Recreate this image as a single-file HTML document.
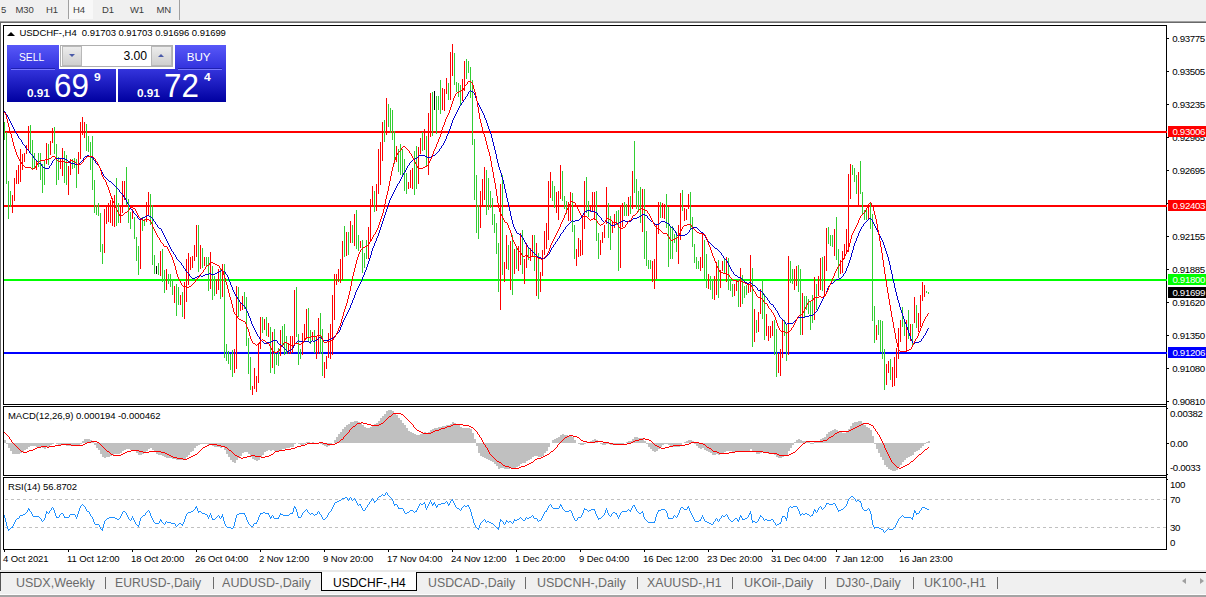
<!DOCTYPE html><html><head><meta charset="utf-8"><title>USDCHF-,H4</title><style>
html,body{margin:0;padding:0;}
body{width:1206px;height:597px;background:#f0f0f0;position:relative;overflow:hidden;font-family:"Liberation Sans",sans-serif;}
.a{position:absolute;}
.t{position:absolute;white-space:nowrap;line-height:1;color:#000;font-size:9.5px;letter-spacing:-0.04px;}
.tb{position:absolute;white-space:nowrap;line-height:1;color:#3c3c3c;font-size:9.5px;letter-spacing:-0.1px;top:5px;}
.ax{position:absolute;white-space:nowrap;line-height:1;color:#000;font-size:9.7px;letter-spacing:-0.36px;left:1172.3px;}
.bx{position:absolute;left:1168px;width:38px;height:11px;color:#fff;font-size:9.7px;letter-spacing:-0.36px;line-height:11px;white-space:nowrap;}
.bx span{position:absolute;left:4.5px;top:0;}
.tab{position:absolute;top:577px;transform-origin:0 0;white-space:nowrap;line-height:1;font-size:12.8px;color:#6a6a6a;}
.sep{position:absolute;top:577px;width:1px;height:12px;background:#6a6a6a;}
.dt{position:absolute;top:554px;white-space:nowrap;line-height:1;color:#000;font-size:9.5px;letter-spacing:-0.1px;}
</style></head><body>
<div class="a" style="left:69px;top:0;width:24px;height:19px;background:#f8f8f8;"></div>
<div class="a" style="left:68px;top:0;width:1px;height:19px;background:#a0a0a0;"></div>
<div class="a" style="left:179px;top:0;width:1px;height:20px;background:#a0a0a0;"></div>
<div class="tb" style="left:1px;">5</div>
<div class="tb" style="left:15.5px;">M30</div>
<div class="tb" style="left:46px;">H1</div>
<div class="tb" style="left:73px;">H4</div>
<div class="tb" style="left:102px;">D1</div>
<div class="tb" style="left:130px;">W1</div>
<div class="tb" style="left:156.5px;">MN</div>
<div class="a" style="left:0;top:21px;width:1206px;height:1px;background:#a0a0a0;"></div>
<div class="a" style="left:0;top:22px;width:1206px;height:1px;background:#696969;"></div>
<div class="a" style="left:0;top:23px;width:1206px;height:548px;background:#fff;"></div>
<div class="a" style="left:0;top:22px;width:1px;height:549px;background:#696969;"></div>
<div class="a" style="left:3px;top:25px;width:1162px;height:378px;border:1px solid #000;"></div>
<div class="a" style="left:3px;top:406px;width:1162px;height:68px;border:1px solid #000;"></div>
<div class="a" style="left:3px;top:477px;width:1162px;height:71px;border:1px solid #000;"></div>
<div class="a" style="left:1166px;top:25px;width:1px;height:525px;background:#000;"></div>
<div class="a" style="left:4px;top:131px;width:1163px;height:2px;background:#ff0000;"></div>
<div class="a" style="left:4px;top:205px;width:1163px;height:2px;background:#ff0000;"></div>
<div class="a" style="left:4px;top:279px;width:1163px;height:2px;background:#00ff00;"></div>
<div class="a" style="left:4px;top:352px;width:1163px;height:2px;background:#0000ff;"></div>
<div class="a" style="left:4px;top:499px;width:1162px;height:1px;background:repeating-linear-gradient(90deg,#c0c0c0 0,#c0c0c0 3px,transparent 3px,transparent 6px);background-position:1px 0;"></div>
<div class="a" style="left:4px;top:527px;width:1162px;height:1px;background:repeating-linear-gradient(90deg,#c0c0c0 0,#c0c0c0 3px,transparent 3px,transparent 6px);background-position:1px 0;"></div>
<svg class="a" style="left:0;top:0;" width="1206" height="597" viewBox="0 0 1206 597"><path d="M4.5 122V140M6.5 132V184M8.5 181V219M10.5 191V207M30.5 125V153M32.5 140V169M34.5 153V169M38.5 153V167M40.5 153V180M42.5 164V193M44.5 160V185M48.5 144V165M54.5 127V154M56.5 144V185M58.5 157V180M64.5 151V183M66.5 155V185M72.5 159V169M74.5 158V168M76.5 159V188M86.5 124V151M88.5 136V152M90.5 142V170M92.5 136V190M94.5 180V213M96.5 205V215M98.5 203V216M100.5 213V252M102.5 244V264M116.5 178V226M118.5 203V223M126.5 167V205M128.5 199V223M130.5 212V229M134.5 217V239M136.5 237V261M138.5 246V275M142.5 217V231M144.5 219V226M150.5 194V225M152.5 205V265M154.5 255V274M158.5 263V275M162.5 249V282M164.5 270V293M168.5 274V284M170.5 274V287M172.5 279V295M176.5 284V316M178.5 287V305M182.5 292V317M198.5 225V272M202.5 248V268M206.5 257V267M208.5 257V291M212.5 266V300M214.5 276V296M220.5 269V299M224.5 264V358M226.5 344V361M228.5 351V364M230.5 354V370M232.5 350V377M238.5 287V317M244.5 292V309M246.5 297V346M248.5 338V374M250.5 357V390M262.5 317V333M266.5 317V336M270.5 327V373M274.5 329V374M276.5 354V365M278.5 348V366M282.5 326V347M284.5 324V355M286.5 336V354M296.5 287V337M298.5 334V365M300.5 349V359M308.5 308V342M310.5 330V344M314.5 330V353M320.5 313V354M322.5 329V376M344.5 226V257M348.5 232V255M352.5 225V243M356.5 210V249M358.5 235V251M362.5 240V273M364.5 253V268M366.5 240V259M374.5 191V212M384.5 120V142M388.5 104V127M390.5 108V133M392.5 110V140M394.5 131V164M398.5 149V172M400.5 144V175M402.5 149V176M404.5 159V191M406.5 173V194M414.5 151V195M416.5 146V189M422.5 132V151M426.5 136V167M432.5 92V136M436.5 96V134M438.5 96V110M440.5 80V114M448.5 83V100M454.5 53V85M456.5 82V92M458.5 83V97M460.5 85V105M466.5 59V79M468.5 61V73M470.5 67V98M472.5 80V145M474.5 139V200M476.5 175V233M478.5 205V239M486.5 170V215M488.5 178V210M490.5 191V208M492.5 198V225M494.5 214V233M496.5 223V254M498.5 243V292M502.5 175V275M508.5 245V270M512.5 235V295M516.5 246V269M522.5 230V274M528.5 248V260M534.5 235V271M538.5 253V299M552.5 181V201M554.5 186V208M562.5 171V201M564.5 196V209M566.5 201V214M572.5 193V232M574.5 225V259M586.5 177V213M588.5 201V217M596.5 191V241M598.5 233V259M608.5 203V238M610.5 216V250M616.5 211V225M618.5 210V271M624.5 202V216M626.5 204V216M630.5 196V214M634.5 141V193M636.5 179V209M638.5 191V212M640.5 187V223M644.5 189V259M646.5 231V266M648.5 260V269M650.5 260V269M660.5 202V218M666.5 194V228M668.5 207V267M670.5 227V259M672.5 226V259M674.5 234V243M676.5 232V252M682.5 190V211M690.5 192V230M692.5 217V247M694.5 244V263M696.5 257V269M698.5 261V269M704.5 240V279M706.5 254V288M710.5 276V290M712.5 280V299M718.5 260V298M724.5 259V274M728.5 258V290M730.5 280V291M732.5 284V297M738.5 279V307M742.5 275V304M744.5 286V298M746.5 285V295M752.5 268V347M756.5 320V333M762.5 280V319M764.5 294V340M774.5 320V355M776.5 329V377M784.5 320V336M786.5 324V361M790.5 261V283M792.5 269V284M798.5 265V292M800.5 269V335M804.5 296V318M806.5 296V310M808.5 299V314M810.5 301V330M812.5 295V323M816.5 284V310M822.5 257V291M828.5 227V244M830.5 235V246M832.5 235V247M836.5 217V260M838.5 249V278M852.5 165V175M854.5 168V182M856.5 175V194M860.5 161V194M862.5 192V215M864.5 210V220M866.5 210V220M870.5 203V229M872.5 214V321M874.5 306V343M878.5 320V335M880.5 320V352M882.5 321V359M884.5 349V390M890.5 359V380M902.5 307V327M904.5 319V336M908.5 310V339M912.5 324V345M916.5 305V328M926.5 291V293M928.5 292V294" stroke="#32cd32" stroke-width="1" fill="none" shape-rendering="crispEdges"/>
<path d="M12.5 195V213M14.5 178V201M16.5 170V184M18.5 165V184M20.5 149V182M22.5 154V170M24.5 153V162M26.5 145V154M28.5 126V150M36.5 160V170M46.5 143V164M50.5 141V155M52.5 128V143M60.5 158V169M62.5 148V176M68.5 166V195M70.5 159V175M78.5 152V174M80.5 122V159M82.5 117V135M84.5 122V138M104.5 209V253M106.5 207V224M108.5 203V222M110.5 200V223M112.5 198V226M114.5 195V227M120.5 205V223M122.5 181V213M124.5 181V200M132.5 209V219M140.5 220V269M146.5 202V222M148.5 192V215M160.5 251V276M166.5 269V290M174.5 286V303M180.5 295V305M184.5 282V319M186.5 259V302M188.5 253V285M190.5 257V270M192.5 256V268M194.5 245V261M196.5 225V257M200.5 245V269M204.5 257V266M210.5 252V289M216.5 279V294M218.5 269V290M222.5 264V297M234.5 349V373M236.5 286V369M240.5 302V311M242.5 296V310M252.5 386V395M254.5 368V389M256.5 376V392M258.5 343V383M260.5 317V349M264.5 319V330M268.5 323V337M272.5 332V368M280.5 330V356M288.5 344V354M290.5 336V354M292.5 336V353M294.5 290V345M302.5 333V355M304.5 324V340M306.5 309V339M312.5 332V341M316.5 337V359M318.5 318V354M324.5 362V378M326.5 356V369M328.5 333V358M330.5 324V359M332.5 295V355M334.5 274V320M336.5 274V285M338.5 269V282M340.5 259V283M342.5 241V280M346.5 232V256M350.5 221V243M354.5 214V246M360.5 241V248M368.5 227V259M370.5 199V242M372.5 186V207M376.5 184V211M378.5 149V194M380.5 142V185M382.5 122V161M386.5 98V135M396.5 146V162M408.5 182V189M410.5 170V188M412.5 168V189M418.5 147V184M420.5 138V154M424.5 129V150M428.5 113V175M430.5 93V137M442.5 88V110M444.5 89V111M446.5 78V94M450.5 52V100M452.5 44V76M462.5 79V101M464.5 61V91M480.5 191V228M482.5 179V206M484.5 167V200M500.5 184V310M504.5 262V282M506.5 235V269M510.5 241V290M514.5 249V274M518.5 246V271M520.5 233V265M524.5 259V284M526.5 243V268M530.5 248V261M532.5 235V257M536.5 243V296M540.5 272V292M542.5 250V276M544.5 231V255M546.5 223V249M548.5 181V240M550.5 172V198M556.5 192V213M558.5 191V220M560.5 165V199M568.5 202V221M570.5 192V221M576.5 249V266M578.5 238V257M580.5 240V256M582.5 217V255M584.5 181V229M590.5 205V212M592.5 192V211M594.5 192V220M600.5 240V255M602.5 232V243M604.5 225V238M606.5 187V224M612.5 221V233M614.5 214V228M620.5 205V268M622.5 203V227M628.5 197V216M632.5 171V209M642.5 189V232M652.5 261V282M654.5 259V289M656.5 224V279M658.5 202V234M662.5 203V218M664.5 204V219M678.5 225V264M680.5 193V240M684.5 208V221M686.5 209V220M688.5 194V209M700.5 257V271M702.5 234V268M708.5 274V289M714.5 276V300M716.5 262V295M720.5 270V288M722.5 261V271M726.5 257V282M734.5 284V296M736.5 280V291M740.5 268V307M748.5 283V293M750.5 255V292M754.5 309V342M758.5 312V332M760.5 289V314M766.5 314V336M768.5 326V341M770.5 326V338M772.5 321V336M778.5 353V373M780.5 349V376M782.5 319V358M788.5 256V355M794.5 269V290M796.5 266V286M802.5 293V335M814.5 277V320M818.5 276V296M820.5 258V290M824.5 256V296M826.5 228V271M834.5 229V256M840.5 260V274M842.5 251V273M844.5 244V259M846.5 229V253M848.5 174V252M850.5 164V199M858.5 172V205M868.5 204V219M876.5 325V340M886.5 364V385M888.5 361V373M892.5 367V387M894.5 357V386M896.5 348V378M898.5 328V359M900.5 320V342M906.5 320V352M910.5 324V341M914.5 297V323M918.5 313V332M920.5 295V327M922.5 282V301M924.5 285V297" stroke="#ff0000" stroke-width="1" fill="none" shape-rendering="crispEdges"/>
<path d="M156.5 266V274M434.5 91V110" stroke="#000" stroke-width="1" fill="none" shape-rendering="crispEdges"/>
<path d="M4.5 111v1M5.5 112v2M6.5 114v1M7.5 115v2M8.5 117v2M9.5 119v2M10.5 121v2M11.5 123v2M12.5 125v2M13.5 127v2M14.5 129v2M15.5 131v2M16.5 133v1M17.5 134v2M18.5 136v2M19.5 138v1M20.5 139v1M21.5 140v2M22.5 142v2M23.5 144v1M24.5 145v1M25.5 146v2M26.5 148v1M27.5 149v1M28.5 150v1M29.5 151v2M30.5 153v1M31.5 154v1M32.5 155v1M33.5 156v2M34.5 158v1M35.5 159v1M36.5 160v1M37.5 161v1M38.5 162v1M39.5 163v1M40.5 163v1M41.5 164v2M42.5 166v1M43.5 167v1M44.5 167v1M45.5 168v1M46.5 168v1M47.5 168v1M48.5 168v1M49.5 166v2M50.5 165v1M51.5 163v2M52.5 161v2M53.5 160v1M54.5 159v1M55.5 158v1M56.5 158v1M57.5 158v1M58.5 158v1M59.5 158v1M60.5 158v1M61.5 158v1M62.5 158v1M63.5 158v1M64.5 158v1M65.5 159v1M66.5 159v1M67.5 160v1M68.5 161v1M69.5 162v1M70.5 162v1M71.5 163v1M72.5 163v1M73.5 163v1M74.5 163v1M75.5 164v1M76.5 164v1M77.5 164v1M78.5 164v1M79.5 163v1M80.5 162v1M81.5 161v1M82.5 160v1M83.5 158v2M84.5 157v1M85.5 156v1M86.5 156v1M87.5 155v1M88.5 155v1M89.5 156v1M90.5 156v1M91.5 157v1M92.5 157v1M93.5 158v2M94.5 160v1M95.5 161v2M96.5 163v1M97.5 164v1M98.5 165v1M99.5 166v2M100.5 168v2M101.5 170v2M102.5 172v2M103.5 174v2M104.5 176v1M105.5 177v1M106.5 178v1M107.5 179v1M108.5 180v1M109.5 181v1M110.5 181v1M111.5 182v1M112.5 183v1M113.5 184v1M114.5 185v1M115.5 186v1M116.5 187v1M117.5 188v1M118.5 189v1M119.5 190v2M120.5 192v1M121.5 193v1M122.5 194v1M123.5 195v2M124.5 197v1M125.5 198v2M126.5 200v2M127.5 202v2M128.5 204v1M129.5 205v2M130.5 207v2M131.5 209v1M132.5 210v1M133.5 211v2M134.5 213v1M135.5 214v1M136.5 215v1M137.5 216v2M138.5 218v1M139.5 219v1M140.5 219v1M141.5 218v1M142.5 218v1M143.5 217v1M144.5 217v1M145.5 216v1M146.5 216v1M147.5 215v1M148.5 215v1M149.5 216v1M150.5 216v1M151.5 217v1M152.5 218v1M153.5 219v2M154.5 221v1M155.5 222v2M156.5 224v1M157.5 225v2M158.5 227v1M159.5 228v1M160.5 228v1M161.5 229v2M162.5 231v2M163.5 233v2M164.5 235v2M165.5 237v2M166.5 239v2M167.5 241v2M168.5 243v2M169.5 245v2M170.5 247v2M171.5 249v2M172.5 251v1M173.5 252v2M174.5 254v1M175.5 255v2M176.5 257v2M177.5 259v1M178.5 260v1M179.5 261v1M180.5 262v1M181.5 263v2M182.5 265v1M183.5 266v2M184.5 268v1M185.5 269v2M186.5 271v1M187.5 272v1M188.5 273v1M189.5 274v2M190.5 276v1M191.5 277v1M192.5 278v1M193.5 278v1M194.5 278v1M195.5 277v1M196.5 277v1M197.5 276v1M198.5 276v1M199.5 275v1M200.5 275v1M201.5 276v1M202.5 276v1M203.5 275v1M204.5 275v1M205.5 274v1M206.5 274v1M207.5 274v1M208.5 274v1M209.5 273v1M210.5 273v1M211.5 274v1M212.5 274v1M213.5 274v1M214.5 274v1M215.5 273v1M216.5 273v1M217.5 272v1M218.5 272v1M219.5 271v1M220.5 271v1M221.5 270v1M222.5 270v1M223.5 271v1M224.5 271v1M225.5 272v2M226.5 274v1M227.5 275v2M228.5 277v3M229.5 280v2M230.5 282v3M231.5 285v2M232.5 287v3M233.5 290v2M234.5 292v2M235.5 294v2M236.5 296v1M237.5 297v2M238.5 299v1M239.5 300v2M240.5 302v1M241.5 303v1M242.5 304v1M243.5 305v1M244.5 306v1M245.5 307v2M246.5 309v2M247.5 311v2M248.5 313v3M249.5 316v2M250.5 318v3M251.5 321v3M252.5 324v2M253.5 326v2M254.5 328v2M255.5 330v2M256.5 332v2M257.5 334v2M258.5 336v1M259.5 337v2M260.5 339v1M261.5 340v1M262.5 341v1M263.5 342v1M264.5 343v1M265.5 343v1M266.5 343v1M267.5 342v1M268.5 342v1M269.5 342v1M270.5 342v1M271.5 341v1M272.5 341v1M273.5 340v1M274.5 340v1M275.5 340v1M276.5 340v1M277.5 341v2M278.5 343v1M279.5 344v1M280.5 344v1M281.5 345v1M282.5 346v1M283.5 347v1M284.5 348v1M285.5 349v1M286.5 350v1M287.5 351v1M288.5 351v1M289.5 350v1M290.5 350v1M291.5 349v1M292.5 348v1M293.5 346v2M294.5 344v2M295.5 343v1M296.5 342v1M297.5 341v1M298.5 340v1M299.5 341v1M300.5 341v1M301.5 341v1M302.5 341v1M303.5 341v1M304.5 341v1M305.5 341v1M306.5 341v1M307.5 341v1M308.5 341v1M309.5 342v1M310.5 342v1M311.5 341v1M312.5 340v1M313.5 341v1M314.5 341v1M315.5 340v1M316.5 340v1M317.5 339v1M318.5 338v1M319.5 337v1M320.5 337v1M321.5 338v1M322.5 339v1M323.5 340v1M324.5 340v1M325.5 340v1M326.5 340v1M327.5 340v1M328.5 340v1M329.5 339v1M330.5 339v1M331.5 338v1M332.5 338v1M333.5 337v1M334.5 336v1M335.5 335v1M336.5 334v1M337.5 333v1M338.5 332v1M339.5 330v2M340.5 327v3M341.5 325v2M342.5 322v3M343.5 320v2M344.5 318v2M345.5 316v2M346.5 314v2M347.5 312v2M348.5 310v2M349.5 308v2M350.5 305v3M351.5 303v2M352.5 300v3M353.5 298v2M354.5 295v3M355.5 292v3M356.5 290v2M357.5 288v2M358.5 286v2M359.5 284v2M360.5 282v2M361.5 280v2M362.5 277v3M363.5 275v2M364.5 272v3M365.5 270v2M366.5 267v3M367.5 264v3M368.5 261v3M369.5 258v3M370.5 255v3M371.5 251v4M372.5 248v3M373.5 246v2M374.5 243v3M375.5 241v2M376.5 238v3M377.5 236v2M378.5 233v3M379.5 230v3M380.5 227v3M381.5 224v3M382.5 221v3M383.5 218v3M384.5 215v3M385.5 212v3M386.5 209v3M387.5 206v3M388.5 203v3M389.5 200v3M390.5 198v2M391.5 196v2M392.5 194v2M393.5 192v2M394.5 190v2M395.5 188v2M396.5 186v2M397.5 184v2M398.5 183v1M399.5 181v2M400.5 179v2M401.5 177v2M402.5 175v2M403.5 173v2M404.5 172v1M405.5 170v2M406.5 168v2M407.5 166v2M408.5 165v1M409.5 163v2M410.5 162v1M411.5 161v1M412.5 160v1M413.5 159v1M414.5 159v1M415.5 158v1M416.5 158v1M417.5 157v1M418.5 156v1M419.5 155v1M420.5 155v1M421.5 155v1M422.5 155v1M423.5 155v1M424.5 155v1M425.5 156v1M426.5 156v1M427.5 157v1M428.5 157v1M429.5 157v1M430.5 157v1M431.5 156v1M432.5 156v1M433.5 155v1M434.5 155v1M435.5 154v1M436.5 153v1M437.5 152v1M438.5 151v1M439.5 149v2M440.5 148v1M441.5 146v2M442.5 145v1M443.5 143v2M444.5 141v2M445.5 139v2M446.5 136v3M447.5 134v2M448.5 131v3M449.5 129v2M450.5 126v3M451.5 123v3M452.5 120v3M453.5 118v2M454.5 116v2M455.5 114v2M456.5 112v2M457.5 110v2M458.5 108v2M459.5 106v2M460.5 105v1M461.5 103v2M462.5 102v1M463.5 100v2M464.5 99v1M465.5 97v2M466.5 96v1M467.5 94v2M468.5 92v2M469.5 91v1M470.5 90v1M471.5 91v1M472.5 91v1M473.5 92v1M474.5 93v2M475.5 95v3M476.5 98v3M477.5 101v2M478.5 103v2M479.5 105v2M480.5 107v2M481.5 109v2M482.5 111v2M483.5 113v2M484.5 115v3M485.5 118v2M486.5 120v3M487.5 123v3M488.5 126v3M489.5 129v2M490.5 131v3M491.5 134v4M492.5 138v4M493.5 142v4M494.5 146v4M495.5 150v4M496.5 154v5M497.5 159v4M498.5 163v4M499.5 167v3M500.5 170v3M501.5 173v4M502.5 177v3M503.5 180v4M504.5 184v5M505.5 189v4M506.5 193v5M507.5 198v4M508.5 202v5M509.5 207v4M510.5 211v5M511.5 216v4M512.5 220v4M513.5 224v3M514.5 227v2M515.5 229v2M516.5 231v2M517.5 233v1M518.5 233v1M519.5 234v1M520.5 234v1M521.5 235v2M522.5 237v1M523.5 238v2M524.5 240v2M525.5 242v2M526.5 244v1M527.5 245v2M528.5 247v1M529.5 248v1M530.5 249v1M531.5 250v1M532.5 251v1M533.5 252v1M534.5 253v1M535.5 254v1M536.5 255v1M537.5 256v1M538.5 257v1M539.5 257v1M540.5 257v1M541.5 258v1M542.5 258v1M543.5 258v1M544.5 258v1M545.5 257v1M546.5 256v1M547.5 255v1M548.5 254v1M549.5 252v2M550.5 250v2M551.5 248v2M552.5 247v1M553.5 245v2M554.5 244v1M555.5 242v2M556.5 241v1M557.5 239v2M558.5 238v1M559.5 236v2M560.5 234v2M561.5 233v1M562.5 232v1M563.5 230v2M564.5 229v1M565.5 227v2M566.5 226v1M567.5 225v1M568.5 224v1M569.5 223v1M570.5 222v1M571.5 221v1M572.5 220v1M573.5 221v1M574.5 221v1M575.5 220v1M576.5 220v1M577.5 220v1M578.5 220v1M579.5 219v1M580.5 218v1M581.5 216v2M582.5 215v1M583.5 213v2M584.5 212v1M585.5 211v1M586.5 211v1M587.5 210v1M588.5 210v1M589.5 210v1M590.5 210v1M591.5 211v1M592.5 211v1M593.5 211v1M594.5 211v1M595.5 212v1M596.5 212v1M597.5 213v2M598.5 215v1M599.5 216v1M600.5 217v1M601.5 218v2M602.5 220v1M603.5 221v1M604.5 222v1M605.5 221v1M606.5 221v1M607.5 222v1M608.5 222v1M609.5 223v1M610.5 224v1M611.5 225v1M612.5 225v1M613.5 225v1M614.5 225v1M615.5 224v1M616.5 223v1M617.5 223v1M618.5 223v1M619.5 222v1M620.5 222v1M621.5 221v1M622.5 221v1M623.5 220v1M624.5 220v1M625.5 221v1M626.5 221v1M627.5 221v1M628.5 221v1M629.5 221v1M630.5 221v1M631.5 220v1M632.5 219v1M633.5 218v1M634.5 218v1M635.5 218v1M636.5 218v1M637.5 217v1M638.5 217v1M639.5 216v1M640.5 216v1M641.5 215v1M642.5 214v1M643.5 214v1M644.5 214v1M645.5 215v1M646.5 215v1M647.5 216v2M648.5 218v1M649.5 219v1M650.5 220v1M651.5 221v1M652.5 221v1M653.5 222v1M654.5 223v1M655.5 224v1M656.5 224v1M657.5 224v1M658.5 224v1M659.5 223v1M660.5 222v1M661.5 221v1M662.5 221v1M663.5 221v1M664.5 221v1M665.5 222v1M666.5 222v1M667.5 223v1M668.5 223v1M669.5 224v2M670.5 226v1M671.5 227v1M672.5 227v1M673.5 228v2M674.5 230v1M675.5 231v2M676.5 233v2M677.5 235v1M678.5 235v1M679.5 235v1M680.5 235v1M681.5 235v1M682.5 235v1M683.5 235v1M684.5 235v1M685.5 234v1M686.5 234v1M687.5 233v1M688.5 232v1M689.5 230v2M690.5 229v1M691.5 228v1M692.5 228v1M693.5 227v1M694.5 227v1M695.5 227v1M696.5 227v1M697.5 228v1M698.5 229v1M699.5 230v1M700.5 231v1M701.5 232v1M702.5 232v1M703.5 233v2M704.5 235v1M705.5 236v2M706.5 238v2M707.5 240v1M708.5 241v1M709.5 242v1M710.5 243v1M711.5 244v1M712.5 245v1M713.5 246v1M714.5 247v1M715.5 248v1M716.5 248v1M717.5 249v1M718.5 250v1M719.5 251v1M720.5 252v1M721.5 253v2M722.5 255v1M723.5 256v2M724.5 258v1M725.5 259v1M726.5 260v1M727.5 261v2M728.5 263v2M729.5 265v2M730.5 267v2M731.5 269v2M732.5 271v1M733.5 272v2M734.5 274v1M735.5 275v1M736.5 275v1M737.5 276v1M738.5 277v1M739.5 277v1M740.5 277v1M741.5 278v1M742.5 279v1M743.5 280v1M744.5 281v1M745.5 282v1M746.5 282v1M747.5 283v1M748.5 283v1M749.5 282v1M750.5 282v1M751.5 283v1M752.5 284v1M753.5 285v1M754.5 285v1M755.5 286v1M756.5 287v1M757.5 288v2M758.5 290v1M759.5 290v1M760.5 290v1M761.5 291v1M762.5 292v1M763.5 293v2M764.5 295v1M765.5 296v1M766.5 297v1M767.5 298v2M768.5 300v1M769.5 301v2M770.5 303v1M771.5 304v1M772.5 304v1M773.5 305v2M774.5 307v1M775.5 308v2M776.5 310v1M777.5 311v2M778.5 313v2M779.5 315v2M780.5 317v1M781.5 318v1M782.5 319v1M783.5 320v1M784.5 321v1M785.5 322v2M786.5 324v1M787.5 323v1M788.5 323v1M789.5 323v1M790.5 323v1M791.5 323v1M792.5 323v1M793.5 322v1M794.5 321v1M795.5 320v1M796.5 319v1M797.5 318v1M798.5 317v1M799.5 317v1M800.5 317v1M801.5 317v1M802.5 317v1M803.5 317v1M804.5 317v1M805.5 316v1M806.5 316v1M807.5 316v1M808.5 316v1M809.5 315v1M810.5 315v1M811.5 315v1M812.5 315v1M813.5 314v1M814.5 313v1M815.5 312v1M816.5 311v1M817.5 309v2M818.5 307v2M819.5 305v2M820.5 303v2M821.5 301v2M822.5 299v2M823.5 297v2M824.5 296v1M825.5 294v2M826.5 291v3M827.5 288v3M828.5 286v2M829.5 285v1M830.5 284v1M831.5 283v1M832.5 283v1M833.5 282v1M834.5 281v1M835.5 280v1M836.5 279v1M837.5 279v1M838.5 279v1M839.5 278v1M840.5 278v1M841.5 277v1M842.5 276v1M843.5 274v2M844.5 273v1M845.5 271v2M846.5 268v3M847.5 266v2M848.5 263v3M849.5 260v3M850.5 257v3M851.5 253v4M852.5 250v3M853.5 246v4M854.5 243v3M855.5 241v2M856.5 238v3M857.5 236v2M858.5 233v3M859.5 231v2M860.5 229v2M861.5 227v2M862.5 226v1M863.5 224v2M864.5 223v1M865.5 222v1M866.5 221v1M867.5 220v1M868.5 219v1M869.5 218v1M870.5 218v1M871.5 219v1M872.5 220v2M873.5 222v2M874.5 224v2M875.5 226v2M876.5 228v2M877.5 230v2M878.5 232v2M879.5 234v2M880.5 236v2M881.5 238v2M882.5 240v2M883.5 242v3M884.5 245v3M885.5 248v3M886.5 251v3M887.5 254v3M888.5 257v4M889.5 261v4M890.5 265v5M891.5 270v4M892.5 274v5M893.5 279v4M894.5 283v5M895.5 288v4M896.5 292v4M897.5 296v4M898.5 300v3M899.5 303v4M900.5 307v3M901.5 310v3M902.5 313v3M903.5 316v3M904.5 319v3M905.5 322v2M906.5 324v3M907.5 327v3M908.5 330v3M909.5 333v3M910.5 336v3M911.5 339v2M912.5 341v2M913.5 343v1M914.5 343v1M915.5 342v1M916.5 342v1M917.5 342v1M918.5 342v1M919.5 341v1M920.5 341v1M921.5 339v2M922.5 338v1M923.5 336v2M924.5 335v1M925.5 333v2M926.5 331v2M927.5 329v2M928.5 328v1" stroke="#0000cd" stroke-width="1" fill="none" shape-rendering="crispEdges"/>
<path d="M4.5 112v1M5.5 113v2M6.5 115v4M7.5 119v4M8.5 123v4M9.5 127v4M10.5 131v3M11.5 134v4M12.5 138v4M13.5 142v4M14.5 146v3M15.5 149v3M16.5 152v3M17.5 155v2M18.5 157v2M19.5 159v2M20.5 161v1M21.5 162v2M22.5 164v1M23.5 165v1M24.5 166v1M25.5 167v1M26.5 167v1M27.5 167v1M28.5 167v1M29.5 167v1M30.5 167v1M31.5 168v1M32.5 169v1M33.5 168v1M34.5 168v1M35.5 166v2M36.5 165v1M37.5 163v2M38.5 162v1M39.5 161v1M40.5 160v1M41.5 160v1M42.5 160v1M43.5 160v1M44.5 160v1M45.5 159v1M46.5 159v1M47.5 159v1M48.5 159v1M49.5 158v1M50.5 158v1M51.5 157v1M52.5 156v1M53.5 156v1M54.5 156v1M55.5 157v2M56.5 159v1M57.5 160v1M58.5 161v1M59.5 161v1M60.5 161v1M61.5 161v1M62.5 161v1M63.5 161v1M64.5 161v1M65.5 162v1M66.5 162v1M67.5 162v1M68.5 162v1M69.5 161v1M70.5 161v1M71.5 160v1M72.5 160v1M73.5 161v1M74.5 161v1M75.5 162v1M76.5 163v1M77.5 164v1M78.5 164v1M79.5 164v1M80.5 164v1M81.5 163v1M82.5 162v1M83.5 160v2M84.5 159v1M85.5 158v1M86.5 157v1M87.5 156v1M88.5 156v1M89.5 156v1M90.5 156v1M91.5 156v1M92.5 156v1M93.5 157v1M94.5 158v1M95.5 159v2M96.5 161v1M97.5 162v2M98.5 164v2M99.5 166v2M100.5 168v3M101.5 171v4M102.5 175v2M103.5 177v2M104.5 179v1M105.5 180v2M106.5 182v3M107.5 185v2M108.5 187v3M109.5 190v3M110.5 193v3M111.5 196v3M112.5 199v2M113.5 201v2M114.5 203v3M115.5 206v2M116.5 208v2M117.5 210v2M118.5 212v2M119.5 214v2M120.5 216v1M121.5 215v1M122.5 215v1M123.5 214v1M124.5 213v1M125.5 212v1M126.5 212v1M127.5 211v1M128.5 210v1M129.5 208v2M130.5 207v1M131.5 207v1M132.5 207v1M133.5 208v1M134.5 208v1M135.5 209v2M136.5 211v2M137.5 213v2M138.5 215v2M139.5 217v1M140.5 218v1M141.5 219v1M142.5 219v1M143.5 220v1M144.5 220v1M145.5 219v1M146.5 219v1M147.5 219v1M148.5 219v1M149.5 220v1M150.5 220v2M151.5 222v2M152.5 224v3M153.5 227v2M154.5 229v2M155.5 231v2M156.5 233v2M157.5 235v2M158.5 237v1M159.5 238v2M160.5 240v2M161.5 242v1M162.5 243v1M163.5 244v2M164.5 246v1M165.5 246v1M166.5 246v1M167.5 247v2M168.5 249v2M169.5 251v2M170.5 253v2M171.5 255v2M172.5 257v3M173.5 260v3M174.5 263v3M175.5 266v4M176.5 270v4M177.5 274v3M178.5 277v2M179.5 279v2M180.5 281v2M181.5 283v2M182.5 285v1M183.5 286v1M184.5 286v1M185.5 286v1M186.5 286v1M187.5 287v1M188.5 287v1M189.5 286v1M190.5 286v1M191.5 285v1M192.5 284v1M193.5 283v1M194.5 282v1M195.5 280v2M196.5 279v1M197.5 278v1M198.5 277v1M199.5 275v2M200.5 274v1M201.5 273v1M202.5 272v1M203.5 270v2M204.5 269v1M205.5 267v2M206.5 266v1M207.5 265v1M208.5 265v1M209.5 263v2M210.5 262v1M211.5 262v1M212.5 262v1M213.5 263v1M214.5 263v1M215.5 264v1M216.5 264v1M217.5 265v1M218.5 265v1M219.5 266v2M220.5 268v1M221.5 269v1M222.5 269v2M223.5 271v4M224.5 275v3M225.5 278v4M226.5 282v3M227.5 285v4M228.5 289v4M229.5 293v4M230.5 297v3M231.5 300v4M232.5 304v4M233.5 308v4M234.5 312v2M235.5 314v1M236.5 315v1M237.5 316v2M238.5 318v1M239.5 319v1M240.5 319v1M241.5 320v1M242.5 320v1M243.5 321v1M244.5 321v1M245.5 322v2M246.5 324v3M247.5 327v2M248.5 329v3M249.5 332v4M250.5 336v3M251.5 339v2M252.5 341v2M253.5 343v1M254.5 343v1M255.5 344v1M256.5 345v1M257.5 344v1M258.5 344v1M259.5 342v2M260.5 341v1M261.5 340v1M262.5 339v1M263.5 340v1M264.5 340v1M265.5 341v1M266.5 342v1M267.5 343v1M268.5 343v1M269.5 344v2M270.5 346v2M271.5 348v2M272.5 350v1M273.5 351v1M274.5 352v1M275.5 352v1M276.5 352v1M277.5 351v1M278.5 351v1M279.5 349v2M280.5 347v2M281.5 346v1M282.5 345v1M283.5 343v2M284.5 342v1M285.5 342v1M286.5 342v1M287.5 343v1M288.5 343v1M289.5 344v1M290.5 344v1M291.5 345v1M292.5 346v1M293.5 345v1M294.5 344v1M295.5 343v1M296.5 343v1M297.5 343v1M298.5 343v1M299.5 344v1M300.5 344v1M301.5 343v1M302.5 343v1M303.5 341v2M304.5 340v1M305.5 338v2M306.5 337v1M307.5 337v1M308.5 337v1M309.5 337v1M310.5 337v1M311.5 336v1M312.5 336v1M313.5 336v1M314.5 336v1M315.5 336v1M316.5 336v1M317.5 335v1M318.5 335v1M319.5 335v1M320.5 335v1M321.5 336v2M322.5 338v2M323.5 340v2M324.5 342v1M325.5 342v1M326.5 342v1M327.5 341v1M328.5 341v1M329.5 341v1M330.5 341v1M331.5 340v1M332.5 340v1M333.5 338v2M334.5 337v1M335.5 335v2M336.5 333v2M337.5 331v2M338.5 328v3M339.5 326v2M340.5 323v3M341.5 319v4M342.5 316v3M343.5 312v4M344.5 309v3M345.5 306v3M346.5 303v3M347.5 299v4M348.5 295v4M349.5 291v4M350.5 286v5M351.5 281v5M352.5 276v5M353.5 272v4M354.5 268v4M355.5 264v4M356.5 260v4M357.5 257v3M358.5 254v3M359.5 252v2M360.5 250v2M361.5 249v1M362.5 248v1M363.5 247v1M364.5 247v1M365.5 246v1M366.5 246v1M367.5 245v1M368.5 244v1M369.5 242v2M370.5 241v1M371.5 239v2M372.5 237v2M373.5 235v2M374.5 234v1M375.5 232v2M376.5 230v2M377.5 228v2M378.5 225v3M379.5 222v3M380.5 219v3M381.5 216v3M382.5 213v3M383.5 209v4M384.5 204v5M385.5 199v5M386.5 195v4M387.5 191v4M388.5 186v5M389.5 181v5M390.5 176v5M391.5 171v5M392.5 167v4M393.5 163v4M394.5 160v3M395.5 157v3M396.5 155v2M397.5 153v2M398.5 152v1M399.5 151v1M400.5 150v1M401.5 148v2M402.5 147v1M403.5 146v1M404.5 146v1M405.5 147v1M406.5 148v1M407.5 149v1M408.5 150v1M409.5 151v2M410.5 153v1M411.5 154v2M412.5 156v2M413.5 158v2M414.5 160v2M415.5 162v2M416.5 164v2M417.5 166v2M418.5 168v1M419.5 168v1M420.5 168v1M421.5 168v1M422.5 168v1M423.5 167v1M424.5 167v1M425.5 166v1M426.5 166v1M427.5 165v1M428.5 163v2M429.5 161v2M430.5 159v2M431.5 157v2M432.5 154v3M433.5 151v3M434.5 149v2M435.5 147v2M436.5 144v3M437.5 142v2M438.5 139v3M439.5 137v2M440.5 134v3M441.5 130v4M442.5 127v3M443.5 125v2M444.5 122v3M445.5 119v3M446.5 117v2M447.5 115v2M448.5 113v2M449.5 110v3M450.5 107v3M451.5 104v3M452.5 101v3M453.5 98v3M454.5 96v2M455.5 94v2M456.5 93v1M457.5 92v1M458.5 92v1M459.5 91v1M460.5 91v1M461.5 90v1M462.5 90v1M463.5 88v2M464.5 86v2M465.5 85v1M466.5 84v1M467.5 82v2M468.5 81v1M469.5 81v1M470.5 81v1M471.5 82v1M472.5 83v2M473.5 85v4M474.5 89v3M475.5 92v4M476.5 96v5M477.5 101v6M478.5 107v6M479.5 113v6M480.5 119v4M481.5 123v4M482.5 127v4M483.5 131v3M484.5 134v3M485.5 137v4M486.5 141v4M487.5 145v4M488.5 149v3M489.5 152v4M490.5 156v5M491.5 161v6M492.5 167v5M493.5 172v6M494.5 178v5M495.5 183v6M496.5 189v7M497.5 196v7M498.5 203v5M499.5 208v4M500.5 212v2M501.5 214v2M502.5 216v2M503.5 218v2M504.5 220v2M505.5 222v1M506.5 222v1M507.5 223v2M508.5 225v3M509.5 228v2M510.5 230v3M511.5 233v4M512.5 237v3M513.5 240v2M514.5 242v2M515.5 244v2M516.5 246v2M517.5 248v2M518.5 250v1M519.5 251v1M520.5 252v1M521.5 253v2M522.5 255v1M523.5 256v1M524.5 256v1M525.5 255v1M526.5 254v1M527.5 255v2M528.5 257v1M529.5 257v1M530.5 257v1M531.5 256v1M532.5 255v1M533.5 256v1M534.5 256v1M535.5 256v1M536.5 256v1M537.5 257v1M538.5 258v1M539.5 258v1M540.5 258v1M541.5 259v1M542.5 259v1M543.5 258v1M544.5 257v1M545.5 256v1M546.5 255v1M547.5 253v2M548.5 251v2M549.5 248v3M550.5 245v3M551.5 243v2M552.5 241v2M553.5 239v2M554.5 237v2M555.5 235v2M556.5 233v2M557.5 231v2M558.5 229v2M559.5 227v2M560.5 224v3M561.5 222v2M562.5 220v2M563.5 218v2M564.5 215v3M565.5 213v2M566.5 210v3M567.5 208v2M568.5 206v2M569.5 204v2M570.5 202v2M571.5 201v1M572.5 201v1M573.5 202v1M574.5 202v1M575.5 203v2M576.5 205v2M577.5 207v2M578.5 209v2M579.5 211v2M580.5 213v2M581.5 215v1M582.5 216v1M583.5 216v1M584.5 216v1M585.5 216v1M586.5 216v1M587.5 217v1M588.5 218v1M589.5 219v1M590.5 220v1M591.5 219v1M592.5 219v1M593.5 218v1M594.5 218v1M595.5 219v1M596.5 220v1M597.5 221v2M598.5 223v1M599.5 224v1M600.5 225v1M601.5 224v1M602.5 224v1M603.5 223v1M604.5 222v1M605.5 220v2M606.5 219v1M607.5 218v1M608.5 218v1M609.5 219v1M610.5 219v1M611.5 220v1M612.5 221v1M613.5 222v1M614.5 222v1M615.5 222v1M616.5 222v1M617.5 223v2M618.5 225v2M619.5 227v1M620.5 227v1M621.5 228v1M622.5 228v1M623.5 227v1M624.5 227v1M625.5 225v2M626.5 224v1M627.5 222v2M628.5 221v1M629.5 220v1M630.5 220v1M631.5 218v2M632.5 216v2M633.5 215v1M634.5 215v1M635.5 214v1M636.5 213v1M637.5 211v2M638.5 210v1M639.5 209v1M640.5 209v1M641.5 208v1M642.5 208v1M643.5 209v1M644.5 209v1M645.5 210v1M646.5 210v1M647.5 211v2M648.5 213v1M649.5 214v2M650.5 216v2M651.5 218v2M652.5 220v2M653.5 222v2M654.5 224v2M655.5 226v1M656.5 227v1M657.5 228v1M658.5 228v1M659.5 229v1M660.5 230v1M661.5 231v1M662.5 232v1M663.5 233v1M664.5 233v1M665.5 233v1M666.5 233v1M667.5 234v2M668.5 236v1M669.5 237v2M670.5 239v1M671.5 240v1M672.5 240v1M673.5 239v1M674.5 239v1M675.5 238v1M676.5 238v1M677.5 237v1M678.5 235v2M679.5 233v2M680.5 231v2M681.5 229v2M682.5 227v2M683.5 226v1M684.5 225v1M685.5 225v1M686.5 225v1M687.5 224v1M688.5 224v1M689.5 224v1M690.5 224v1M691.5 225v2M692.5 227v1M693.5 228v1M694.5 229v1M695.5 230v1M696.5 231v1M697.5 232v1M698.5 232v1M699.5 233v1M700.5 233v1M701.5 233v1M702.5 233v1M703.5 234v1M704.5 234v1M705.5 235v2M706.5 237v2M707.5 239v3M708.5 242v3M709.5 245v2M710.5 247v3M711.5 250v3M712.5 253v3M713.5 256v2M714.5 258v3M715.5 261v2M716.5 263v3M717.5 266v2M718.5 268v2M719.5 270v2M720.5 272v1M721.5 272v1M722.5 272v1M723.5 273v1M724.5 273v1M725.5 273v1M726.5 273v1M727.5 274v1M728.5 274v1M729.5 275v2M730.5 277v1M731.5 278v1M732.5 279v1M733.5 280v1M734.5 280v1M735.5 280v1M736.5 280v1M737.5 281v1M738.5 281v1M739.5 280v1M740.5 280v1M741.5 281v1M742.5 281v1M743.5 282v1M744.5 282v1M745.5 283v1M746.5 283v1M747.5 284v1M748.5 284v1M749.5 284v1M750.5 284v1M751.5 285v2M752.5 287v2M753.5 289v2M754.5 291v1M755.5 292v2M756.5 294v2M757.5 296v1M758.5 297v1M759.5 297v1M760.5 297v1M761.5 298v1M762.5 299v1M763.5 300v2M764.5 302v1M765.5 303v1M766.5 303v1M767.5 304v2M768.5 306v2M769.5 308v1M770.5 309v1M771.5 310v2M772.5 312v1M773.5 313v2M774.5 315v2M775.5 317v3M776.5 320v3M777.5 323v3M778.5 326v2M779.5 328v2M780.5 330v1M781.5 331v1M782.5 331v1M783.5 331v1M784.5 331v1M785.5 332v1M786.5 333v1M787.5 332v1M788.5 332v1M789.5 331v1M790.5 330v1M791.5 328v2M792.5 327v1M793.5 325v2M794.5 323v2M795.5 321v2M796.5 319v2M797.5 317v2M798.5 316v1M799.5 315v1M800.5 315v1M801.5 314v1M802.5 313v1M803.5 311v2M804.5 309v2M805.5 307v2M806.5 305v2M807.5 303v2M808.5 302v1M809.5 301v1M810.5 301v1M811.5 300v1M812.5 300v1M813.5 298v2M814.5 296v2M815.5 297v1M816.5 297v1M817.5 297v1M818.5 297v1M819.5 296v1M820.5 296v1M821.5 297v1M822.5 297v1M823.5 296v1M824.5 296v1M825.5 294v2M826.5 292v2M827.5 290v2M828.5 287v3M829.5 285v2M830.5 283v2M831.5 281v2M832.5 278v3M833.5 276v2M834.5 273v3M835.5 271v2M836.5 269v2M837.5 267v2M838.5 266v1M839.5 264v2M840.5 262v2M841.5 261v1M842.5 260v1M843.5 258v2M844.5 256v2M845.5 254v2M846.5 252v2M847.5 250v2M848.5 247v3M849.5 243v4M850.5 239v4M851.5 235v4M852.5 233v2M853.5 231v2M854.5 229v2M855.5 227v2M856.5 225v2M857.5 223v2M858.5 220v3M859.5 218v2M860.5 216v2M861.5 215v1M862.5 214v1M863.5 213v1M864.5 212v1M865.5 210v2M866.5 208v2M867.5 206v2M868.5 204v2M869.5 203v1M870.5 202v1M871.5 203v2M872.5 205v2M873.5 207v4M874.5 211v4M875.5 215v4M876.5 219v5M877.5 224v6M878.5 230v5M879.5 235v6M880.5 241v6M881.5 247v6M882.5 253v7M883.5 260v7M884.5 267v7M885.5 274v6M886.5 280v7M887.5 287v6M888.5 293v6M889.5 299v6M890.5 305v6M891.5 311v6M892.5 317v5M893.5 322v6M894.5 328v5M895.5 333v6M896.5 339v4M897.5 343v4M898.5 347v3M899.5 350v1M900.5 351v1M901.5 351v1M902.5 351v1M903.5 351v1M904.5 351v1M905.5 351v1M906.5 351v1M907.5 350v1M908.5 350v1M909.5 349v1M910.5 349v1M911.5 347v2M912.5 345v2M913.5 343v2M914.5 341v2M915.5 339v2M916.5 338v1M917.5 336v2M918.5 333v3M919.5 331v2M920.5 328v3M921.5 326v2M922.5 323v3M923.5 321v2M924.5 319v2M925.5 317v2M926.5 316v1M927.5 314v2M928.5 313v1" stroke="#ff0000" stroke-width="1" fill="none" shape-rendering="crispEdges"/>
<path d="M3.5 440.0h2v3.0h-2zM5.5 443.0h2v0.5h-2zM7.5 443.0h2v4.8h-2zM9.5 443.0h2v8.1h-2zM11.5 443.0h2v10.5h-2zM13.5 443.0h2v11.4h-2zM15.5 443.0h2v11.2h-2zM17.5 443.0h2v10.8h-2zM19.5 443.0h2v9.6h-2zM21.5 443.0h2v8.5h-2zM23.5 443.0h2v7.4h-2zM25.5 443.0h2v5.9h-2zM27.5 443.0h2v3.8h-2zM29.5 443.0h2v2.8h-2zM31.5 443.0h2v3.0h-2zM33.5 443.0h2v3.3h-2zM35.5 443.0h2v3.5h-2zM37.5 443.0h2v3.6h-2zM39.5 443.0h2v4.1h-2zM41.5 443.0h2v5.3h-2zM43.5 443.0h2v5.7h-2zM45.5 443.0h2v4.3h-2zM47.5 443.0h2v3.6h-2zM49.5 443.0h2v2.3h-2zM51.5 443.0h2v0.5h-2zM53.5 442.8h2v0.5h-2zM55.5 443.0h2v0.9h-2zM57.5 443.0h2v1.8h-2zM59.5 443.0h2v1.8h-2zM61.5 443.0h2v1.5h-2zM63.5 443.0h2v2.2h-2zM65.5 443.0h2v2.9h-2zM67.5 443.0h2v3.4h-2zM69.5 443.0h2v3.0h-2zM71.5 443.0h2v2.9h-2zM73.5 443.0h2v2.6h-2zM75.5 443.0h2v3.3h-2zM77.5 443.0h2v2.5h-2zM79.5 443.0h2v0.5h-2zM81.5 440.9h2v2.1h-2zM83.5 439.3h2v3.7h-2zM85.5 439.1h2v3.9h-2zM87.5 439.3h2v3.7h-2zM89.5 440.3h2v2.7h-2zM91.5 441.9h2v1.1h-2zM93.5 443.0h2v2.0h-2zM95.5 443.0h2v4.9h-2zM97.5 443.0h2v7.1h-2zM99.5 443.0h2v10.6h-2zM101.5 443.0h2v14.2h-2zM103.5 443.0h2v14.7h-2zM105.5 443.0h2v14.3h-2zM107.5 443.0h2v13.6h-2zM109.5 443.0h2v12.8h-2zM111.5 443.0h2v12.0h-2zM113.5 443.0h2v11.1h-2zM115.5 443.0h2v10.7h-2zM117.5 443.0h2v10.6h-2zM119.5 443.0h2v10.0h-2zM121.5 443.0h2v8.2h-2zM123.5 443.0h2v6.5h-2zM125.5 443.0h2v5.5h-2zM127.5 443.0h2v6.0h-2zM129.5 443.0h2v6.8h-2zM131.5 443.0h2v6.6h-2zM133.5 443.0h2v7.7h-2zM135.5 443.0h2v9.7h-2zM137.5 443.0h2v12.0h-2zM139.5 443.0h2v11.7h-2zM141.5 443.0h2v10.8h-2zM143.5 443.0h2v9.9h-2zM145.5 443.0h2v8.0h-2zM147.5 443.0h2v5.9h-2zM149.5 443.0h2v5.2h-2zM151.5 443.0h2v6.6h-2zM153.5 443.0h2v8.8h-2zM155.5 443.0h2v10.6h-2zM157.5 443.0h2v12.0h-2zM159.5 443.0h2v12.1h-2zM161.5 443.0h2v12.9h-2zM163.5 443.0h2v14.3h-2zM165.5 443.0h2v14.5h-2zM167.5 443.0h2v14.9h-2zM169.5 443.0h2v15.1h-2zM171.5 443.0h2v15.6h-2zM173.5 443.0h2v15.8h-2zM175.5 443.0h2v16.8h-2zM177.5 443.0h2v16.9h-2zM179.5 443.0h2v16.7h-2zM181.5 443.0h2v17.1h-2zM183.5 443.0h2v16.2h-2zM185.5 443.0h2v14.0h-2zM187.5 443.0h2v11.5h-2zM189.5 443.0h2v9.3h-2zM191.5 443.0h2v7.5h-2zM193.5 443.0h2v5.3h-2zM195.5 443.0h2v2.6h-2zM197.5 443.0h2v1.9h-2zM199.5 443.0h2v1.0h-2zM201.5 443.0h2v0.9h-2zM203.5 443.0h2v0.6h-2zM205.5 443.0h2v0.7h-2zM207.5 443.0h2v1.7h-2zM209.5 443.0h2v1.5h-2zM211.5 443.0h2v2.9h-2zM213.5 443.0h2v4.0h-2zM215.5 443.0h2v4.4h-2zM217.5 443.0h2v4.1h-2zM219.5 443.0h2v4.8h-2zM221.5 443.0h2v4.3h-2zM223.5 443.0h2v7.3h-2zM225.5 443.0h2v11.1h-2zM227.5 443.0h2v14.3h-2zM229.5 443.0h2v16.9h-2zM231.5 443.0h2v19.0h-2zM233.5 443.0h2v19.6h-2zM235.5 443.0h2v17.1h-2zM237.5 443.0h2v14.8h-2zM239.5 443.0h2v12.6h-2zM241.5 443.0h2v10.4h-2zM243.5 443.0h2v8.9h-2zM245.5 443.0h2v9.2h-2zM247.5 443.0h2v11.4h-2zM249.5 443.0h2v13.9h-2zM251.5 443.0h2v16.3h-2zM253.5 443.0h2v17.1h-2zM255.5 443.0h2v18.0h-2zM257.5 443.0h2v16.8h-2zM259.5 443.0h2v14.0h-2zM261.5 443.0h2v11.7h-2zM263.5 443.0h2v9.4h-2zM265.5 443.0h2v8.0h-2zM267.5 443.0h2v6.6h-2zM269.5 443.0h2v7.5h-2zM271.5 443.0h2v7.0h-2zM273.5 443.0h2v7.6h-2zM275.5 443.0h2v8.1h-2zM277.5 443.0h2v8.4h-2zM279.5 443.0h2v7.1h-2zM281.5 443.0h2v6.1h-2zM283.5 443.0h2v5.6h-2zM285.5 443.0h2v5.3h-2zM287.5 443.0h2v5.0h-2zM289.5 443.0h2v4.3h-2zM291.5 443.0h2v3.7h-2zM293.5 443.0h2v1.0h-2zM295.5 442.9h2v0.5h-2zM297.5 443.0h2v1.1h-2zM299.5 443.0h2v2.0h-2zM301.5 443.0h2v1.7h-2zM303.5 443.0h2v0.8h-2zM305.5 442.4h2v0.6h-2zM307.5 442.2h2v0.8h-2zM309.5 442.5h2v0.5h-2zM311.5 442.4h2v0.6h-2zM313.5 443.0h2v0.5h-2zM315.5 443.0h2v0.5h-2zM317.5 442.8h2v0.5h-2zM319.5 443.0h2v0.5h-2zM321.5 443.0h2v1.6h-2zM323.5 443.0h2v3.0h-2zM325.5 443.0h2v3.7h-2zM327.5 443.0h2v3.0h-2zM329.5 443.0h2v2.0h-2zM331.5 442.9h2v0.5h-2zM333.5 439.7h2v3.3h-2zM335.5 436.6h2v6.4h-2zM337.5 434.0h2v9.0h-2zM339.5 431.6h2v11.4h-2zM341.5 429.1h2v13.9h-2zM343.5 426.9h2v16.1h-2zM345.5 424.9h2v18.1h-2zM347.5 424.0h2v19.0h-2zM349.5 422.3h2v20.7h-2zM351.5 421.9h2v21.1h-2zM353.5 420.9h2v22.1h-2zM355.5 421.2h2v21.8h-2zM357.5 422.2h2v20.8h-2zM359.5 423.1h2v19.9h-2zM361.5 425.2h2v17.8h-2zM363.5 427.1h2v15.9h-2zM365.5 428.2h2v14.8h-2zM367.5 428.1h2v14.9h-2zM369.5 426.7h2v16.3h-2zM371.5 424.6h2v18.4h-2zM373.5 424.0h2v19.0h-2zM375.5 422.9h2v20.1h-2zM377.5 420.5h2v22.5h-2zM379.5 418.3h2v24.7h-2zM381.5 415.6h2v27.4h-2zM383.5 413.9h2v29.1h-2zM385.5 411.3h2v31.7h-2zM387.5 410.3h2v32.7h-2zM389.5 410.2h2v32.8h-2zM391.5 410.9h2v32.1h-2zM393.5 413.2h2v29.8h-2zM395.5 415.1h2v27.9h-2zM397.5 417.8h2v25.2h-2zM399.5 420.3h2v22.7h-2zM401.5 422.6h2v20.4h-2zM403.5 425.4h2v17.6h-2zM405.5 428.3h2v14.7h-2zM407.5 430.5h2v12.5h-2zM409.5 431.8h2v11.2h-2zM411.5 432.8h2v10.2h-2zM413.5 434.3h2v8.7h-2zM415.5 435.1h2v7.9h-2zM417.5 434.8h2v8.2h-2zM419.5 433.7h2v9.3h-2zM421.5 433.1h2v9.9h-2zM423.5 432.1h2v10.9h-2zM425.5 432.8h2v10.2h-2zM427.5 431.9h2v11.1h-2zM429.5 429.8h2v13.2h-2zM431.5 429.2h2v13.8h-2zM433.5 427.6h2v15.4h-2zM435.5 427.9h2v15.1h-2zM437.5 427.2h2v15.8h-2zM439.5 426.8h2v16.2h-2zM441.5 426.1h2v16.9h-2zM443.5 425.7h2v17.3h-2zM445.5 424.9h2v18.1h-2zM447.5 425.2h2v17.8h-2zM449.5 423.9h2v19.1h-2zM451.5 422.2h2v20.8h-2zM453.5 422.6h2v20.4h-2zM455.5 423.9h2v19.1h-2zM457.5 425.4h2v17.6h-2zM459.5 427.1h2v15.9h-2zM461.5 427.8h2v15.2h-2zM463.5 427.6h2v15.4h-2zM465.5 427.8h2v15.2h-2zM467.5 427.9h2v15.1h-2zM469.5 429.3h2v13.7h-2zM471.5 432.9h2v10.1h-2zM473.5 439.2h2v3.8h-2zM475.5 443.0h2v3.3h-2zM477.5 443.0h2v9.7h-2zM479.5 443.0h2v12.9h-2zM481.5 443.0h2v14.3h-2zM483.5 443.0h2v14.7h-2zM485.5 443.0h2v16.3h-2zM487.5 443.0h2v17.3h-2zM489.5 443.0h2v18.1h-2zM491.5 443.0h2v19.3h-2zM493.5 443.0h2v20.7h-2zM495.5 443.0h2v22.6h-2zM497.5 443.0h2v25.9h-2zM499.5 443.0h2v24.7h-2zM501.5 443.0h2v25.0h-2zM503.5 443.0h2v26.3h-2zM505.5 443.0h2v25.6h-2zM507.5 443.0h2v25.9h-2zM509.5 443.0h2v25.3h-2zM511.5 443.0h2v26.0h-2zM513.5 443.0h2v24.9h-2zM515.5 443.0h2v24.1h-2zM517.5 443.0h2v22.7h-2zM519.5 443.0h2v20.6h-2zM521.5 443.0h2v19.9h-2zM523.5 443.0h2v19.5h-2zM525.5 443.0h2v17.9h-2zM527.5 443.0h2v16.9h-2zM529.5 443.0h2v15.6h-2zM531.5 443.0h2v13.8h-2zM533.5 443.0h2v13.3h-2zM535.5 443.0h2v12.8h-2zM537.5 443.0h2v13.8h-2zM539.5 443.0h2v14.0h-2zM541.5 443.0h2v12.7h-2zM543.5 443.0h2v10.4h-2zM545.5 443.0h2v8.0h-2zM547.5 443.0h2v4.1h-2zM549.5 442.8h2v0.5h-2zM551.5 440.3h2v2.7h-2zM553.5 438.8h2v4.2h-2zM555.5 437.5h2v5.5h-2zM557.5 436.7h2v6.3h-2zM559.5 434.6h2v8.4h-2zM561.5 434.0h2v9.0h-2zM563.5 434.5h2v8.5h-2zM565.5 435.3h2v7.7h-2zM567.5 435.9h2v7.1h-2zM569.5 436.0h2v7.0h-2zM571.5 437.3h2v5.7h-2zM573.5 440.2h2v2.8h-2zM575.5 442.8h2v0.5h-2zM577.5 443.0h2v1.2h-2zM579.5 443.0h2v2.4h-2zM581.5 443.0h2v2.2h-2zM583.5 443.0h2v0.5h-2zM585.5 441.8h2v1.2h-2zM587.5 441.5h2v1.5h-2zM589.5 440.9h2v2.1h-2zM591.5 439.9h2v3.1h-2zM593.5 439.3h2v3.7h-2zM595.5 440.4h2v2.6h-2zM597.5 442.9h2v0.5h-2zM599.5 443.0h2v1.4h-2zM601.5 443.0h2v2.1h-2zM603.5 443.0h2v2.1h-2zM605.5 443.0h2v0.5h-2zM607.5 443.0h2v0.6h-2zM609.5 443.0h2v1.6h-2zM611.5 443.0h2v1.5h-2zM613.5 443.0h2v0.9h-2zM615.5 443.0h2v0.7h-2zM617.5 443.0h2v2.4h-2zM619.5 443.0h2v2.0h-2zM621.5 443.0h2v0.8h-2zM623.5 442.9h2v0.5h-2zM625.5 442.3h2v0.7h-2zM627.5 441.2h2v1.8h-2zM629.5 440.8h2v2.2h-2zM631.5 438.8h2v4.2h-2zM633.5 437.0h2v6.0h-2zM635.5 437.1h2v5.9h-2zM637.5 437.5h2v5.5h-2zM639.5 438.4h2v4.6h-2zM641.5 438.4h2v4.6h-2zM643.5 440.7h2v2.3h-2zM645.5 443.0h2v0.7h-2zM647.5 443.0h2v3.6h-2zM649.5 443.0h2v5.9h-2zM651.5 443.0h2v7.7h-2zM653.5 443.0h2v9.0h-2zM655.5 443.0h2v8.3h-2zM657.5 443.0h2v5.8h-2zM659.5 443.0h2v3.9h-2zM661.5 443.0h2v2.0h-2zM663.5 443.0h2v0.6h-2zM665.5 443.0h2v0.5h-2zM667.5 443.0h2v1.5h-2zM669.5 443.0h2v2.7h-2zM671.5 443.0h2v3.6h-2zM673.5 443.0h2v3.7h-2zM675.5 443.0h2v4.1h-2zM677.5 443.0h2v3.7h-2zM679.5 443.0h2v1.6h-2zM681.5 442.8h2v0.5h-2zM683.5 441.8h2v1.2h-2zM685.5 441.1h2v1.9h-2zM687.5 439.7h2v3.3h-2zM689.5 439.9h2v3.1h-2zM691.5 441.2h2v1.8h-2zM693.5 443.0h2v0.5h-2zM695.5 443.0h2v2.8h-2zM697.5 443.0h2v4.6h-2zM699.5 443.0h2v5.7h-2zM701.5 443.0h2v5.4h-2zM703.5 443.0h2v6.5h-2zM705.5 443.0h2v8.0h-2zM707.5 443.0h2v9.1h-2zM709.5 443.0h2v10.3h-2zM711.5 443.0h2v11.6h-2zM713.5 443.0h2v11.8h-2zM715.5 443.0h2v11.2h-2zM717.5 443.0h2v11.5h-2zM719.5 443.0h2v10.9h-2zM721.5 443.0h2v9.6h-2zM723.5 443.0h2v8.8h-2zM725.5 443.0h2v7.8h-2zM727.5 443.0h2v7.9h-2zM729.5 443.0h2v8.3h-2zM731.5 443.0h2v8.9h-2zM733.5 443.0h2v8.9h-2zM735.5 443.0h2v8.5h-2zM737.5 443.0h2v9.1h-2zM739.5 443.0h2v8.3h-2zM741.5 443.0h2v8.5h-2zM743.5 443.0h2v8.5h-2zM745.5 443.0h2v8.3h-2zM747.5 443.0h2v7.6h-2zM749.5 443.0h2v5.8h-2zM751.5 443.0h2v7.8h-2zM753.5 443.0h2v9.1h-2zM755.5 443.0h2v10.6h-2zM757.5 443.0h2v10.9h-2zM759.5 443.0h2v9.8h-2zM761.5 443.0h2v9.4h-2zM763.5 443.0h2v10.2h-2zM765.5 443.0h2v10.3h-2zM767.5 443.0h2v10.9h-2zM769.5 443.0h2v11.2h-2zM771.5 443.0h2v11.1h-2zM773.5 443.0h2v12.0h-2zM775.5 443.0h2v13.7h-2zM777.5 443.0h2v14.7h-2zM779.5 443.0h2v15.1h-2zM781.5 443.0h2v13.7h-2zM783.5 443.0h2v12.4h-2zM785.5 443.0h2v12.5h-2zM787.5 443.0h2v8.4h-2zM789.5 443.0h2v4.6h-2zM791.5 443.0h2v1.7h-2zM793.5 442.1h2v0.9h-2zM795.5 440.0h2v3.0h-2zM797.5 439.0h2v4.0h-2zM799.5 440.3h2v2.7h-2zM801.5 440.7h2v2.3h-2zM803.5 441.4h2v1.6h-2zM805.5 441.6h2v1.4h-2zM807.5 442.0h2v1.0h-2zM809.5 443.0h2v0.5h-2zM811.5 443.0h2v0.5h-2zM813.5 442.3h2v0.7h-2zM815.5 442.1h2v0.9h-2zM817.5 440.8h2v2.2h-2zM819.5 438.8h2v4.2h-2zM821.5 438.2h2v4.8h-2zM823.5 436.9h2v6.1h-2zM825.5 434.4h2v8.6h-2zM827.5 432.3h2v10.7h-2zM829.5 431.1h2v11.9h-2zM831.5 430.3h2v12.7h-2zM833.5 429.4h2v13.6h-2zM835.5 429.5h2v13.5h-2zM837.5 431.1h2v11.9h-2zM839.5 432.2h2v10.8h-2zM841.5 432.7h2v10.3h-2zM843.5 432.7h2v10.3h-2zM845.5 432.1h2v10.9h-2zM847.5 429.3h2v13.7h-2zM849.5 425.9h2v17.1h-2zM851.5 423.2h2v19.8h-2zM853.5 421.8h2v21.2h-2zM855.5 421.5h2v21.5h-2zM857.5 421.1h2v21.9h-2zM859.5 421.2h2v21.8h-2zM861.5 423.0h2v20.0h-2zM863.5 425.2h2v17.8h-2zM865.5 427.1h2v15.9h-2zM867.5 428.3h2v14.7h-2zM869.5 430.1h2v12.9h-2zM871.5 435.9h2v7.1h-2zM873.5 443.0h2v0.5h-2zM875.5 443.0h2v5.7h-2zM877.5 443.0h2v10.0h-2zM879.5 443.0h2v14.0h-2zM881.5 443.0h2v17.3h-2zM883.5 443.0h2v21.5h-2zM885.5 443.0h2v24.2h-2zM887.5 443.0h2v25.6h-2zM889.5 443.0h2v27.0h-2zM891.5 443.0h2v27.7h-2zM893.5 443.0h2v27.5h-2zM895.5 443.0h2v26.5h-2zM897.5 443.0h2v24.2h-2zM899.5 443.0h2v21.5h-2zM901.5 443.0h2v18.8h-2zM903.5 443.0h2v17.0h-2zM905.5 443.0h2v15.4h-2zM907.5 443.0h2v14.0h-2zM909.5 443.0h2v12.6h-2zM911.5 443.0h2v12.0h-2zM913.5 443.0h2v9.3h-2zM915.5 443.0h2v8.1h-2zM917.5 443.0h2v6.9h-2zM919.5 443.0h2v5.0h-2zM921.5 443.0h2v2.5h-2zM923.5 443.0h2v0.5h-2zM925.5 442.1h2v0.9h-2zM927.5 441.2h2v1.8h-2z" fill="#c0c0c0" shape-rendering="crispEdges"/>
<path d="M4.5 432v1M5.5 433v1M6.5 434v1M7.5 435v1M8.5 436v1M9.5 437v2M10.5 439v1M11.5 440v2M12.5 442v1M13.5 443v1M14.5 444v1M15.5 445v1M16.5 446v1M17.5 447v1M18.5 448v1M19.5 449v1M20.5 450v1M21.5 451v1M22.5 451v1M23.5 452v1M24.5 452v1M25.5 452v1M26.5 452v1M27.5 451v1M28.5 451v1M29.5 450v1M30.5 450v1M31.5 450v1M32.5 450v1M33.5 449v1M34.5 449v1M35.5 448v1M36.5 448v1M37.5 447v1M38.5 447v1M39.5 447v1M40.5 447v1M41.5 446v1M42.5 446v1M43.5 446v1M44.5 446v1M45.5 446v1M46.5 446v1M47.5 447v1M48.5 447v1M49.5 446v1M50.5 446v1M51.5 446v1M52.5 446v1M53.5 446v1M54.5 446v1M55.5 445v1M56.5 445v1M57.5 445v1M58.5 445v1M59.5 445v1M60.5 445v1M61.5 444v1M62.5 444v1M63.5 444v1M64.5 444v1M65.5 444v1M66.5 444v1M67.5 444v1M68.5 444v1M69.5 444v1M70.5 444v1M71.5 445v1M72.5 445v1M73.5 445v1M74.5 445v1M75.5 445v1M76.5 445v1M77.5 445v1M78.5 445v1M79.5 445v1M80.5 445v1M81.5 445v1M82.5 445v1M83.5 444v1M84.5 444v1M85.5 443v1M86.5 443v1M87.5 442v1M88.5 442v1M89.5 442v1M90.5 442v1M91.5 441v1M92.5 441v1M93.5 441v1M94.5 441v1M95.5 441v1M96.5 441v1M97.5 442v1M98.5 442v1M99.5 443v1M100.5 444v1M101.5 445v1M102.5 446v1M103.5 447v1M104.5 448v1M105.5 449v1M106.5 450v1M107.5 451v1M108.5 451v1M109.5 452v1M110.5 453v1M111.5 454v1M112.5 454v1M113.5 455v1M114.5 455v1M115.5 455v1M116.5 455v1M117.5 455v1M118.5 455v1M119.5 455v1M120.5 455v1M121.5 454v1M122.5 454v1M123.5 453v1M124.5 453v1M125.5 452v1M126.5 452v1M127.5 451v1M128.5 451v1M129.5 451v1M130.5 451v1M131.5 450v1M132.5 450v1M133.5 450v1M134.5 450v1M135.5 450v1M136.5 450v1M137.5 450v1M138.5 450v1M139.5 451v1M140.5 451v1M141.5 451v1M142.5 451v1M143.5 452v1M144.5 452v1M145.5 452v1M146.5 452v1M147.5 452v1M148.5 452v1M149.5 451v1M150.5 451v1M151.5 451v1M152.5 451v1M153.5 451v1M154.5 451v1M155.5 451v1M156.5 451v1M157.5 451v1M158.5 451v1M159.5 451v1M160.5 451v1M161.5 452v1M162.5 452v1M163.5 452v1M164.5 452v1M165.5 453v1M166.5 453v1M167.5 454v1M168.5 454v1M169.5 455v1M170.5 455v1M171.5 456v1M172.5 456v1M173.5 457v1M174.5 457v1M175.5 457v1M176.5 457v1M177.5 458v1M178.5 458v1M179.5 458v1M180.5 458v1M181.5 458v1M182.5 458v1M183.5 459v1M184.5 459v1M185.5 459v1M186.5 459v1M187.5 458v1M188.5 458v1M189.5 457v1M190.5 457v1M191.5 456v1M192.5 456v1M193.5 455v1M194.5 455v1M195.5 454v1M196.5 454v1M197.5 453v1M198.5 452v1M199.5 451v1M200.5 450v1M201.5 449v1M202.5 448v1M203.5 447v1M204.5 447v1M205.5 446v1M206.5 446v1M207.5 445v1M208.5 445v1M209.5 444v1M210.5 444v1M211.5 444v1M212.5 444v1M213.5 444v1M214.5 444v1M215.5 444v1M216.5 444v1M217.5 445v1M218.5 445v1M219.5 445v1M220.5 445v1M221.5 446v1M222.5 446v1M223.5 446v1M224.5 446v1M225.5 447v1M226.5 447v1M227.5 448v1M228.5 449v1M229.5 450v1M230.5 450v1M231.5 451v1M232.5 452v1M233.5 453v1M234.5 454v1M235.5 455v1M236.5 455v1M237.5 456v1M238.5 456v1M239.5 457v1M240.5 457v1M241.5 458v1M242.5 458v1M243.5 457v1M244.5 457v1M245.5 457v1M246.5 457v1M247.5 456v1M248.5 456v1M249.5 456v1M250.5 456v1M251.5 455v1M252.5 455v1M253.5 455v1M254.5 455v1M255.5 456v1M256.5 456v1M257.5 456v1M258.5 456v1M259.5 456v1M260.5 456v1M261.5 457v1M262.5 457v1M263.5 457v1M264.5 457v1M265.5 456v1M266.5 456v1M267.5 456v1M268.5 456v1M269.5 455v1M270.5 455v1M271.5 454v1M272.5 454v1M273.5 453v1M274.5 452v1M275.5 451v1M276.5 451v1M277.5 451v1M278.5 451v1M279.5 450v1M280.5 450v1M281.5 450v1M282.5 450v1M283.5 450v1M284.5 450v1M285.5 449v1M286.5 449v1M287.5 449v1M288.5 449v1M289.5 449v1M290.5 449v1M291.5 448v1M292.5 448v1M293.5 448v1M294.5 448v1M295.5 447v1M296.5 447v1M297.5 446v1M298.5 446v1M299.5 446v1M300.5 446v1M301.5 445v1M302.5 445v1M303.5 445v1M304.5 445v1M305.5 444v1M306.5 444v1M307.5 443v1M308.5 443v1M309.5 443v1M310.5 443v1M311.5 443v1M312.5 443v1M313.5 443v1M314.5 443v1M315.5 443v1M316.5 443v1M317.5 443v1M318.5 443v1M319.5 442v1M320.5 442v1M321.5 442v1M322.5 442v1M323.5 443v1M324.5 443v1M325.5 443v1M326.5 443v1M327.5 444v1M328.5 444v1M329.5 444v1M330.5 444v1M331.5 444v1M332.5 444v1M333.5 444v1M334.5 444v1M335.5 443v1M336.5 443v1M337.5 442v1M338.5 442v1M339.5 441v1M340.5 440v1M341.5 439v1M342.5 439v1M343.5 437v2M344.5 436v1M345.5 435v1M346.5 434v1M347.5 433v1M348.5 432v1M349.5 430v2M350.5 429v1M351.5 428v1M352.5 427v1M353.5 426v1M354.5 426v1M355.5 425v1M356.5 424v1M357.5 423v1M358.5 423v1M359.5 423v1M360.5 423v1M361.5 422v1M362.5 422v1M363.5 423v1M364.5 423v1M365.5 423v1M366.5 423v1M367.5 424v1M368.5 424v1M369.5 424v1M370.5 424v1M371.5 425v1M372.5 425v1M373.5 425v1M374.5 425v1M375.5 425v1M376.5 425v1M377.5 425v1M378.5 425v1M379.5 424v1M380.5 424v1M381.5 423v1M382.5 423v1M383.5 422v1M384.5 421v1M385.5 420v1M386.5 419v1M387.5 418v1M388.5 417v1M389.5 416v1M390.5 416v1M391.5 415v1M392.5 414v1M393.5 413v1M394.5 413v1M395.5 413v1M396.5 413v1M397.5 413v1M398.5 413v1M399.5 413v1M400.5 413v1M401.5 414v1M402.5 414v1M403.5 415v1M404.5 416v1M405.5 417v1M406.5 418v1M407.5 419v1M408.5 420v1M409.5 421v1M410.5 422v1M411.5 423v1M412.5 424v1M413.5 425v2M414.5 427v1M415.5 428v1M416.5 429v1M417.5 430v1M418.5 430v1M419.5 431v1M420.5 431v1M421.5 432v1M422.5 432v1M423.5 433v1M424.5 433v1M425.5 433v1M426.5 433v1M427.5 433v1M428.5 433v1M429.5 433v1M430.5 433v1M431.5 432v1M432.5 432v1M433.5 431v1M434.5 431v1M435.5 430v1M436.5 430v1M437.5 430v1M438.5 430v1M439.5 429v1M440.5 429v1M441.5 428v1M442.5 428v1M443.5 428v1M444.5 428v1M445.5 427v1M446.5 427v1M447.5 426v1M448.5 426v1M449.5 426v1M450.5 426v1M451.5 425v1M452.5 425v1M453.5 424v1M454.5 424v1M455.5 424v1M456.5 424v1M457.5 424v1M458.5 424v1M459.5 424v1M460.5 424v1M461.5 424v1M462.5 424v1M463.5 425v1M464.5 425v1M465.5 425v1M466.5 425v1M467.5 425v1M468.5 425v1M469.5 426v1M470.5 426v1M471.5 427v1M472.5 427v1M473.5 428v1M474.5 429v1M475.5 430v1M476.5 431v1M477.5 432v2M478.5 434v1M479.5 435v2M480.5 437v1M481.5 438v2M482.5 440v2M483.5 442v2M484.5 444v1M485.5 445v2M486.5 447v1M487.5 448v2M488.5 450v2M489.5 452v2M490.5 454v1M491.5 455v1M492.5 456v1M493.5 457v1M494.5 458v1M495.5 459v1M496.5 460v1M497.5 461v1M498.5 461v1M499.5 462v1M500.5 462v1M501.5 463v1M502.5 464v1M503.5 465v1M504.5 465v1M505.5 466v1M506.5 466v1M507.5 466v1M508.5 466v1M509.5 467v1M510.5 467v1M511.5 468v1M512.5 468v1M513.5 468v1M514.5 468v1M515.5 468v1M516.5 468v1M517.5 468v1M518.5 468v1M519.5 467v1M520.5 467v1M521.5 466v1M522.5 466v1M523.5 466v1M524.5 466v1M525.5 465v1M526.5 465v1M527.5 464v1M528.5 464v1M529.5 463v1M530.5 463v1M531.5 462v1M532.5 462v1M533.5 461v1M534.5 460v1M535.5 459v1M536.5 459v1M537.5 458v1M538.5 458v1M539.5 458v1M540.5 458v1M541.5 457v1M542.5 457v1M543.5 456v1M544.5 456v1M545.5 455v1M546.5 455v1M547.5 454v1M548.5 454v1M549.5 453v1M550.5 452v1M551.5 451v1M552.5 451v1M553.5 450v1M554.5 449v1M555.5 448v1M556.5 447v1M557.5 445v2M558.5 444v1M559.5 443v1M560.5 442v1M561.5 441v1M562.5 440v1M563.5 439v1M564.5 438v1M565.5 437v1M566.5 437v1M567.5 436v1M568.5 436v1M569.5 435v1M570.5 435v1M571.5 435v1M572.5 435v1M573.5 436v1M574.5 436v1M575.5 436v1M576.5 436v1M577.5 437v1M578.5 437v1M579.5 438v1M580.5 439v1M581.5 440v1M582.5 440v1M583.5 441v1M584.5 441v1M585.5 441v1M586.5 441v1M587.5 442v1M588.5 442v1M589.5 442v1M590.5 442v1M591.5 442v1M592.5 442v1M593.5 442v1M594.5 442v1M595.5 441v1M596.5 441v1M597.5 441v1M598.5 441v1M599.5 441v1M600.5 441v1M601.5 441v1M602.5 441v1M603.5 442v1M604.5 442v1M605.5 442v1M606.5 442v1M607.5 442v1M608.5 442v1M609.5 443v1M610.5 443v1M611.5 443v1M612.5 443v1M613.5 444v1M614.5 444v1M615.5 444v1M616.5 444v1M617.5 444v1M618.5 444v1M619.5 444v1M620.5 444v1M621.5 444v1M622.5 444v1M623.5 444v1M624.5 444v1M625.5 444v1M626.5 444v1M627.5 443v1M628.5 443v1M629.5 443v1M630.5 443v1M631.5 442v1M632.5 442v1M633.5 441v1M634.5 441v1M635.5 440v1M636.5 440v1M637.5 440v1M638.5 440v1M639.5 439v1M640.5 439v1M641.5 439v1M642.5 439v1M643.5 438v1M644.5 438v1M645.5 439v1M646.5 439v1M647.5 439v1M648.5 439v1M649.5 440v1M650.5 440v1M651.5 441v1M652.5 442v1M653.5 443v1M654.5 444v1M655.5 445v1M656.5 445v1M657.5 446v1M658.5 446v1M659.5 447v1M660.5 447v1M661.5 448v1M662.5 448v1M663.5 448v1M664.5 448v1M665.5 447v1M666.5 447v1M667.5 447v1M668.5 447v1M669.5 446v1M670.5 446v1M671.5 446v1M672.5 446v1M673.5 445v1M674.5 445v1M675.5 445v1M676.5 445v1M677.5 445v1M678.5 445v1M679.5 445v1M680.5 445v1M681.5 445v1M682.5 445v1M683.5 445v1M684.5 445v1M685.5 444v1M686.5 444v1M687.5 444v1M688.5 444v1M689.5 443v1M690.5 443v1M691.5 442v1M692.5 442v1M693.5 442v1M694.5 442v1M695.5 442v1M696.5 442v1M697.5 442v1M698.5 442v1M699.5 443v1M700.5 443v1M701.5 443v1M702.5 443v1M703.5 444v1M704.5 444v1M705.5 445v1M706.5 446v1M707.5 447v1M708.5 447v1M709.5 448v1M710.5 448v1M711.5 449v1M712.5 450v1M713.5 451v1M714.5 451v1M715.5 451v1M716.5 451v1M717.5 452v1M718.5 452v1M719.5 453v1M720.5 453v1M721.5 453v1M722.5 453v1M723.5 453v1M724.5 453v1M725.5 453v1M726.5 453v1M727.5 453v1M728.5 453v1M729.5 452v1M730.5 452v1M731.5 452v1M732.5 452v1M733.5 452v1M734.5 452v1M735.5 451v1M736.5 451v1M737.5 451v1M738.5 451v1M739.5 451v1M740.5 451v1M741.5 451v1M742.5 451v1M743.5 451v1M744.5 451v1M745.5 451v1M746.5 451v1M747.5 451v1M748.5 451v1M749.5 451v1M750.5 451v1M751.5 451v1M752.5 451v1M753.5 451v1M754.5 451v1M755.5 451v1M756.5 451v1M757.5 451v1M758.5 451v1M759.5 451v1M760.5 451v1M761.5 451v1M762.5 451v1M763.5 452v1M764.5 452v1M765.5 452v1M766.5 452v1M767.5 452v1M768.5 452v1M769.5 453v1M770.5 453v1M771.5 453v1M772.5 453v1M773.5 453v1M774.5 453v1M775.5 453v1M776.5 453v1M777.5 454v1M778.5 454v1M779.5 455v1M780.5 455v1M781.5 455v1M782.5 455v1M783.5 455v1M784.5 455v1M785.5 455v1M786.5 455v1M787.5 455v1M788.5 455v1M789.5 454v1M790.5 454v1M791.5 453v1M792.5 453v1M793.5 452v1M794.5 452v1M795.5 451v1M796.5 450v1M797.5 449v1M798.5 448v1M799.5 447v1M800.5 446v1M801.5 445v1M802.5 444v1M803.5 443v1M804.5 443v1M805.5 442v1M806.5 441v1M807.5 441v1M808.5 441v1M809.5 441v1M810.5 441v1M811.5 441v1M812.5 441v1M813.5 441v1M814.5 441v1M815.5 441v1M816.5 441v1M817.5 441v1M818.5 441v1M819.5 441v1M820.5 441v1M821.5 441v1M822.5 441v1M823.5 440v1M824.5 440v1M825.5 440v1M826.5 440v1M827.5 439v1M828.5 438v1M829.5 437v1M830.5 437v1M831.5 436v1M832.5 436v1M833.5 435v1M834.5 434v1M835.5 433v1M836.5 433v1M837.5 432v1M838.5 432v1M839.5 431v1M840.5 431v1M841.5 431v1M842.5 431v1M843.5 431v1M844.5 431v1M845.5 431v1M846.5 431v1M847.5 431v1M848.5 431v1M849.5 430v1M850.5 430v1M851.5 429v1M852.5 429v1M853.5 428v1M854.5 428v1M855.5 427v1M856.5 427v1M857.5 426v1M858.5 426v1M859.5 425v1M860.5 425v1M861.5 424v1M862.5 424v1M863.5 423v1M864.5 423v1M865.5 423v1M866.5 423v1M867.5 423v1M868.5 423v1M869.5 424v1M870.5 424v1M871.5 425v1M872.5 425v1M873.5 426v2M874.5 428v1M875.5 429v2M876.5 431v1M877.5 432v2M878.5 434v1M879.5 435v2M880.5 437v2M881.5 439v2M882.5 441v2M883.5 443v2M884.5 445v3M885.5 448v2M886.5 450v2M887.5 452v2M888.5 454v2M889.5 456v2M890.5 458v2M891.5 460v2M892.5 462v1M893.5 463v1M894.5 464v1M895.5 465v1M896.5 466v1M897.5 467v1M898.5 467v1M899.5 468v1M900.5 468v1M901.5 467v1M902.5 467v1M903.5 466v1M904.5 466v1M905.5 465v1M906.5 465v1M907.5 464v1M908.5 464v1M909.5 463v1M910.5 462v1M911.5 461v1M912.5 461v1M913.5 460v1M914.5 459v1M915.5 458v1M916.5 457v1M917.5 456v1M918.5 455v1M919.5 454v1M920.5 454v1M921.5 453v1M922.5 452v1M923.5 451v1M924.5 450v1M925.5 449v1M926.5 449v1M927.5 448v1M928.5 447v1" stroke="#ff0000" stroke-width="1" fill="none" shape-rendering="crispEdges"/>
<path d="M4.5 515v3M5.5 518v4M6.5 522v4M7.5 526v3M8.5 529v2M9.5 529v1M10.5 528v1M11.5 527v1M12.5 526v2M13.5 524v2M14.5 522v2M15.5 520v2M16.5 519v1M17.5 518v1M18.5 518v1M19.5 516v2M20.5 515v1M21.5 515v1M22.5 515v1M23.5 514v1M24.5 514v1M25.5 513v1M26.5 512v1M27.5 510v2M28.5 508v2M29.5 509v2M30.5 511v1M31.5 512v2M32.5 514v2M33.5 516v1M34.5 516v1M35.5 516v1M36.5 516v1M37.5 516v1M38.5 516v1M39.5 517v1M40.5 518v1M41.5 519v2M42.5 521v1M43.5 520v1M44.5 518v2M45.5 514v4M46.5 511v3M47.5 512v1M48.5 513v1M49.5 511v2M50.5 510v1M51.5 508v2M52.5 507v1M53.5 508v2M54.5 510v3M55.5 513v3M56.5 516v2M57.5 517v1M58.5 517v1M59.5 515v2M60.5 514v1M61.5 513v1M62.5 513v1M63.5 514v2M64.5 516v2M65.5 517v1M66.5 517v1M67.5 517v1M68.5 517v1M69.5 515v2M70.5 514v1M71.5 514v1M72.5 514v1M73.5 514v1M74.5 514v1M75.5 515v2M76.5 517v2M77.5 514v3M78.5 511v3M79.5 508v3M80.5 506v2M81.5 505v1M82.5 504v1M83.5 505v1M84.5 506v1M85.5 507v2M86.5 509v2M87.5 511v1M88.5 511v1M89.5 512v2M90.5 514v2M91.5 516v1M92.5 517v2M93.5 519v3M94.5 522v2M95.5 524v1M96.5 524v1M97.5 524v1M98.5 524v1M99.5 525v2M100.5 527v2M101.5 529v1M102.5 528v3M103.5 524v4M104.5 521v3M105.5 520v1M106.5 519v1M107.5 518v1M108.5 518v1M109.5 517v1M110.5 517v1M111.5 517v1M112.5 517v1M113.5 517v1M114.5 517v1M115.5 518v1M116.5 518v1M117.5 519v1M118.5 519v1M119.5 518v1M120.5 516v2M121.5 514v2M122.5 512v2M123.5 511v1M124.5 511v1M125.5 512v1M126.5 513v2M127.5 515v2M128.5 517v2M129.5 519v1M130.5 520v1M131.5 518v2M132.5 516v2M133.5 518v2M134.5 520v2M135.5 522v2M136.5 524v1M137.5 525v1M138.5 525v2M139.5 521v4M140.5 518v3M141.5 517v1M142.5 516v1M143.5 515v1M144.5 515v1M145.5 513v2M146.5 512v1M147.5 511v1M148.5 510v1M149.5 511v2M150.5 513v3M151.5 516v2M152.5 518v2M153.5 520v2M154.5 522v1M155.5 523v1M156.5 523v1M157.5 523v1M158.5 523v1M159.5 521v2M160.5 519v2M161.5 520v2M162.5 522v1M163.5 523v1M164.5 524v1M165.5 522v2M166.5 521v1M167.5 522v1M168.5 522v1M169.5 522v1M170.5 522v1M171.5 523v1M172.5 523v1M173.5 523v1M174.5 523v1M175.5 524v2M176.5 526v1M177.5 525v1M178.5 524v1M179.5 523v1M180.5 523v1M181.5 524v1M182.5 524v2M183.5 522v2M184.5 519v3M185.5 516v3M186.5 514v2M187.5 513v1M188.5 512v1M189.5 512v1M190.5 512v1M191.5 511v1M192.5 511v1M193.5 510v1M194.5 509v1M195.5 507v2M196.5 506v2M197.5 508v3M198.5 511v2M199.5 511v1M200.5 511v1M201.5 512v1M202.5 513v1M203.5 513v1M204.5 513v1M205.5 514v1M206.5 514v1M207.5 515v2M208.5 517v2M209.5 515v2M210.5 513v2M211.5 515v3M212.5 518v2M213.5 519v1M214.5 519v1M215.5 518v1M216.5 517v1M217.5 516v1M218.5 515v1M219.5 516v2M220.5 518v1M221.5 516v2M222.5 514v3M223.5 517v4M224.5 521v3M225.5 524v2M226.5 526v1M227.5 527v1M228.5 527v1M229.5 527v1M230.5 527v1M231.5 528v1M232.5 528v1M233.5 526v2M234.5 522v4M235.5 518v4M236.5 515v3M237.5 514v1M238.5 514v1M239.5 513v1M240.5 513v1M241.5 513v1M242.5 513v1M243.5 513v1M244.5 513v2M245.5 515v2M246.5 517v3M247.5 520v2M248.5 522v2M249.5 524v1M250.5 525v1M251.5 526v1M252.5 526v1M253.5 524v2M254.5 523v1M255.5 523v1M256.5 522v2M257.5 520v2M258.5 517v3M259.5 515v2M260.5 513v2M261.5 513v1M262.5 513v1M263.5 512v1M264.5 512v1M265.5 513v1M266.5 513v1M267.5 513v1M268.5 513v2M269.5 515v2M270.5 517v2M271.5 516v2M272.5 515v1M273.5 516v2M274.5 518v1M275.5 518v1M276.5 518v1M277.5 518v1M278.5 517v2M279.5 515v2M280.5 513v2M281.5 514v1M282.5 514v1M283.5 515v1M284.5 515v1M285.5 515v1M286.5 515v1M287.5 515v1M288.5 515v1M289.5 514v1M290.5 513v1M291.5 513v1M292.5 512v2M293.5 508v4M294.5 506v2M295.5 507v2M296.5 509v3M297.5 512v4M298.5 516v2M299.5 517v1M300.5 517v1M301.5 515v2M302.5 513v2M303.5 512v1M304.5 511v1M305.5 510v1M306.5 509v1M307.5 510v2M308.5 512v1M309.5 513v1M310.5 514v1M311.5 513v1M312.5 513v1M313.5 514v1M314.5 515v1M315.5 514v1M316.5 514v1M317.5 512v2M318.5 511v1M319.5 512v2M320.5 514v1M321.5 515v2M322.5 517v2M323.5 519v1M324.5 519v1M325.5 518v1M326.5 517v1M327.5 515v2M328.5 513v2M329.5 512v1M330.5 511v1M331.5 509v2M332.5 507v2M333.5 505v2M334.5 503v2M335.5 502v1M336.5 502v1M337.5 501v1M338.5 501v1M339.5 500v1M340.5 500v1M341.5 499v1M342.5 498v1M343.5 498v1M344.5 498v1M345.5 497v1M346.5 497v1M347.5 498v2M348.5 500v1M349.5 498v2M350.5 497v1M351.5 498v2M352.5 500v1M353.5 499v1M354.5 498v1M355.5 499v2M356.5 501v2M357.5 503v2M358.5 505v1M359.5 504v1M360.5 504v2M361.5 506v2M362.5 508v2M363.5 510v1M364.5 510v1M365.5 508v2M366.5 507v1M367.5 505v2M368.5 504v1M369.5 502v2M370.5 501v1M371.5 499v2M372.5 498v1M373.5 499v2M374.5 501v2M375.5 501v1M376.5 500v1M377.5 498v2M378.5 497v1M379.5 496v1M380.5 496v1M381.5 495v1M382.5 494v1M383.5 495v1M384.5 495v1M385.5 493v2M386.5 492v1M387.5 493v2M388.5 495v1M389.5 496v1M390.5 497v1M391.5 498v1M392.5 499v2M393.5 501v3M394.5 504v2M395.5 504v1M396.5 504v1M397.5 505v2M398.5 507v2M399.5 508v1M400.5 508v1M401.5 508v1M402.5 508v1M403.5 509v2M404.5 511v2M405.5 513v1M406.5 513v1M407.5 512v1M408.5 512v1M409.5 511v1M410.5 510v1M411.5 510v1M412.5 510v1M413.5 511v1M414.5 512v1M415.5 511v1M416.5 510v2M417.5 508v2M418.5 506v2M419.5 504v2M420.5 503v1M421.5 504v1M422.5 504v1M423.5 503v1M424.5 502v2M425.5 504v4M426.5 508v2M427.5 506v2M428.5 504v2M429.5 502v2M430.5 500v2M431.5 502v2M432.5 504v2M433.5 503v2M434.5 502v2M435.5 504v2M436.5 506v2M437.5 505v2M438.5 504v1M439.5 504v1M440.5 504v1M441.5 503v1M442.5 503v1M443.5 503v1M444.5 503v1M445.5 502v1M446.5 501v1M447.5 502v2M448.5 504v2M449.5 503v2M450.5 501v2M451.5 500v1M452.5 499v2M453.5 501v2M454.5 503v2M455.5 505v2M456.5 507v1M457.5 508v1M458.5 508v1M459.5 509v1M460.5 510v1M461.5 508v2M462.5 507v1M463.5 506v1M464.5 505v1M465.5 506v1M466.5 506v1M467.5 505v1M468.5 505v2M469.5 507v2M470.5 509v3M471.5 512v4M472.5 516v3M473.5 519v4M474.5 523v2M475.5 525v2M476.5 527v1M477.5 528v1M478.5 528v2M479.5 525v3M480.5 523v2M481.5 522v1M482.5 521v1M483.5 520v1M484.5 519v1M485.5 520v2M486.5 522v1M487.5 521v1M488.5 521v1M489.5 522v1M490.5 522v1M491.5 523v1M492.5 523v1M493.5 524v1M494.5 525v1M495.5 526v1M496.5 527v1M497.5 528v1M498.5 527v3M499.5 522v5M500.5 519v3M501.5 520v1M502.5 521v1M503.5 522v2M504.5 524v1M505.5 522v2M506.5 520v2M507.5 521v1M508.5 522v1M509.5 521v1M510.5 521v1M511.5 522v1M512.5 523v1M513.5 521v2M514.5 519v2M515.5 520v1M516.5 520v1M517.5 519v1M518.5 519v1M519.5 518v1M520.5 517v1M521.5 518v1M522.5 519v1M523.5 520v1M524.5 520v1M525.5 518v2M526.5 517v1M527.5 518v1M528.5 518v1M529.5 517v1M530.5 517v1M531.5 516v1M532.5 515v1M533.5 516v2M534.5 518v1M535.5 518v1M536.5 518v1M537.5 519v2M538.5 521v1M539.5 520v1M540.5 520v1M541.5 518v2M542.5 516v2M543.5 514v2M544.5 512v2M545.5 511v1M546.5 510v2M547.5 508v2M548.5 506v2M549.5 505v1M550.5 504v1M551.5 505v2M552.5 507v1M553.5 508v1M554.5 508v1M555.5 508v1M556.5 508v1M557.5 508v1M558.5 508v1M559.5 506v2M560.5 504v2M561.5 505v2M562.5 507v2M563.5 509v1M564.5 510v1M565.5 511v1M566.5 511v1M567.5 511v1M568.5 511v1M569.5 510v1M570.5 510v1M571.5 511v2M572.5 513v3M573.5 516v2M574.5 518v2M575.5 520v1M576.5 520v1M577.5 518v2M578.5 517v1M579.5 517v1M580.5 517v1M581.5 515v2M582.5 513v2M583.5 510v3M584.5 508v2M585.5 509v1M586.5 509v1M587.5 510v1M588.5 511v1M589.5 510v1M590.5 510v1M591.5 509v1M592.5 509v1M593.5 509v1M594.5 509v2M595.5 511v3M596.5 514v2M597.5 516v2M598.5 518v2M599.5 518v1M600.5 518v1M601.5 517v1M602.5 516v1M603.5 515v1M604.5 513v2M605.5 510v3M606.5 508v2M607.5 510v3M608.5 513v2M609.5 515v1M610.5 516v1M611.5 514v2M612.5 513v1M613.5 512v1M614.5 512v1M615.5 513v1M616.5 513v2M617.5 515v2M618.5 517v2M619.5 515v2M620.5 513v2M621.5 512v1M622.5 511v1M623.5 511v1M624.5 511v1M625.5 511v1M626.5 511v1M627.5 510v1M628.5 509v1M629.5 510v1M630.5 510v2M631.5 508v2M632.5 506v2M633.5 505v1M634.5 505v2M635.5 507v2M636.5 509v2M637.5 511v1M638.5 512v1M639.5 513v1M640.5 513v1M641.5 512v1M642.5 511v2M643.5 513v4M644.5 517v2M645.5 519v1M646.5 520v1M647.5 521v1M648.5 522v1M649.5 522v1M650.5 522v1M651.5 522v1M652.5 522v1M653.5 522v1M654.5 521v2M655.5 517v4M656.5 514v3M657.5 512v2M658.5 510v2M659.5 510v1M660.5 510v1M661.5 509v1M662.5 509v1M663.5 509v1M664.5 509v1M665.5 510v1M666.5 511v2M667.5 513v4M668.5 517v2M669.5 518v1M670.5 518v1M671.5 518v1M672.5 518v1M673.5 516v2M674.5 515v1M675.5 516v1M676.5 517v1M677.5 515v2M678.5 513v2M679.5 510v3M680.5 508v2M681.5 507v1M682.5 507v1M683.5 508v1M684.5 509v1M685.5 509v1M686.5 509v1M687.5 507v2M688.5 506v2M689.5 508v3M690.5 511v2M691.5 513v2M692.5 515v2M693.5 517v2M694.5 519v2M695.5 521v1M696.5 521v1M697.5 521v1M698.5 521v1M699.5 520v1M700.5 519v2M701.5 517v2M702.5 515v2M703.5 517v2M704.5 519v2M705.5 521v1M706.5 521v1M707.5 522v1M708.5 522v1M709.5 523v1M710.5 523v1M711.5 524v1M712.5 524v1M713.5 522v2M714.5 521v1M715.5 519v2M716.5 518v1M717.5 519v2M718.5 521v1M719.5 519v2M720.5 518v1M721.5 516v2M722.5 515v1M723.5 516v1M724.5 516v1M725.5 515v1M726.5 514v1M727.5 515v2M728.5 517v2M729.5 519v1M730.5 520v1M731.5 521v1M732.5 521v1M733.5 520v1M734.5 519v1M735.5 518v1M736.5 518v1M737.5 519v2M738.5 520v2M739.5 517v3M740.5 515v2M741.5 516v2M742.5 518v2M743.5 519v1M744.5 519v1M745.5 518v1M746.5 518v1M747.5 517v1M748.5 515v2M749.5 513v2M750.5 511v3M751.5 514v6M752.5 520v3M753.5 521v1M754.5 521v1M755.5 522v1M756.5 522v1M757.5 521v1M758.5 519v2M759.5 517v2M760.5 515v2M761.5 516v1M762.5 517v1M763.5 518v2M764.5 520v1M765.5 519v1M766.5 519v1M767.5 520v1M768.5 520v1M769.5 520v1M770.5 520v1M771.5 519v1M772.5 519v1M773.5 520v2M774.5 522v1M775.5 523v2M776.5 525v1M777.5 524v1M778.5 524v1M779.5 523v1M780.5 522v2M781.5 518v4M782.5 516v2M783.5 516v1M784.5 516v1M785.5 517v2M786.5 518v3M787.5 512v6M788.5 508v4M789.5 507v1M790.5 506v1M791.5 507v1M792.5 507v1M793.5 506v1M794.5 506v1M795.5 506v1M796.5 506v1M797.5 507v2M798.5 509v2M799.5 511v3M800.5 514v2M801.5 514v1M802.5 513v1M803.5 514v1M804.5 514v1M805.5 513v1M806.5 513v1M807.5 514v1M808.5 514v1M809.5 515v1M810.5 516v1M811.5 515v1M812.5 514v2M813.5 511v3M814.5 509v2M815.5 510v2M816.5 512v1M817.5 510v2M818.5 508v2M819.5 507v1M820.5 506v1M821.5 507v2M822.5 509v1M823.5 508v1M824.5 507v1M825.5 505v2M826.5 503v2M827.5 503v1M828.5 503v1M829.5 504v1M830.5 504v1M831.5 504v1M832.5 504v1M833.5 503v1M834.5 503v1M835.5 504v2M836.5 506v2M837.5 508v2M838.5 510v2M839.5 510v1M840.5 510v1M841.5 509v1M842.5 509v1M843.5 508v1M844.5 507v1M845.5 506v1M846.5 504v2M847.5 501v3M848.5 499v2M849.5 498v1M850.5 497v1M851.5 496v1M852.5 496v1M853.5 497v1M854.5 498v1M855.5 499v2M856.5 501v1M857.5 500v1M858.5 500v1M859.5 501v1M860.5 501v2M861.5 503v4M862.5 507v2M863.5 509v1M864.5 510v1M865.5 510v1M866.5 510v1M867.5 509v1M868.5 508v1M869.5 509v2M870.5 511v3M871.5 514v6M872.5 520v5M873.5 525v2M874.5 527v2M875.5 527v1M876.5 527v1M877.5 527v1M878.5 527v1M879.5 528v1M880.5 528v1M881.5 529v1M882.5 529v1M883.5 530v2M884.5 532v1M885.5 531v1M886.5 530v1M887.5 529v1M888.5 528v1M889.5 529v1M890.5 529v1M891.5 529v1M892.5 529v1M893.5 528v1M894.5 527v1M895.5 525v2M896.5 523v2M897.5 521v2M898.5 519v2M899.5 518v1M900.5 517v1M901.5 516v1M902.5 515v1M903.5 516v1M904.5 517v1M905.5 517v1M906.5 517v1M907.5 517v1M908.5 517v1M909.5 517v1M910.5 517v1M911.5 518v1M912.5 517v3M913.5 513v4M914.5 510v3M915.5 511v2M916.5 513v2M917.5 513v1M918.5 513v1M919.5 511v2M920.5 510v1M921.5 508v2M922.5 507v1M923.5 507v1M924.5 507v1M925.5 508v1M926.5 508v1M927.5 509v1M928.5 509v1" stroke="#1e90ff" stroke-width="1" fill="none" shape-rendering="crispEdges"/></svg>
<div class="a" style="left:1167px;top:38px;width:2px;height:1px;background:#000;"></div>
<div class="ax" style="top:33.8px;">0.93775</div>
<div class="a" style="left:1167px;top:71px;width:2px;height:1px;background:#000;"></div>
<div class="ax" style="top:66.8px;">0.93505</div>
<div class="a" style="left:1167px;top:104px;width:2px;height:1px;background:#000;"></div>
<div class="ax" style="top:99.8px;">0.93235</div>
<div class="a" style="left:1167px;top:137px;width:2px;height:1px;background:#000;"></div>
<div class="ax" style="top:132.8px;">0.92965</div>
<div class="a" style="left:1167px;top:170px;width:2px;height:1px;background:#000;"></div>
<div class="ax" style="top:165.8px;">0.92695</div>
<div class="a" style="left:1167px;top:203px;width:2px;height:1px;background:#000;"></div>
<div class="ax" style="top:198.8px;">0.92425</div>
<div class="a" style="left:1167px;top:236px;width:2px;height:1px;background:#000;"></div>
<div class="ax" style="top:231.8px;">0.92155</div>
<div class="a" style="left:1167px;top:269px;width:2px;height:1px;background:#000;"></div>
<div class="ax" style="top:264.8px;">0.91885</div>
<div class="a" style="left:1167px;top:302px;width:2px;height:1px;background:#000;"></div>
<div class="ax" style="top:297.8px;">0.91620</div>
<div class="a" style="left:1167px;top:335px;width:2px;height:1px;background:#000;"></div>
<div class="ax" style="top:330.8px;">0.91350</div>
<div class="a" style="left:1167px;top:368px;width:2px;height:1px;background:#000;"></div>
<div class="ax" style="top:363.8px;">0.91080</div>
<div class="a" style="left:1167px;top:401px;width:2px;height:1px;background:#000;"></div>
<div class="ax" style="top:396.8px;">0.90810</div>
<div class="ax" style="top:408.5px;left:1170px;">0.00382</div>
<div class="ax" style="top:438.8px;left:1170px;">0.00</div>
<div class="ax" style="top:463.40000000000003px;left:1170px;">-0.0033</div>
<div class="a" style="left:1167px;top:443px;width:2px;height:1px;background:#000;"></div>
<div class="a" style="left:1167px;top:408px;width:1px;height:1px;background:#000;"></div>
<div class="a" style="left:1167px;top:474px;width:1px;height:1px;background:#000;"></div>
<div class="a" style="left:1167px;top:479px;width:1px;height:1px;background:#000;"></div>
<div class="ax" style="top:479.8px;left:1170px;">100</div>
<div class="ax" style="top:494.8px;left:1170px;">70</div>
<div class="ax" style="top:522.8px;left:1170px;">30</div>
<div class="ax" style="top:537.8px;left:1170px;">0</div>
<div class="bx" style="top:126px;background:#ff0000;"><span>0.93006</span></div>
<div class="bx" style="top:200px;background:#ff0000;"><span>0.92403</span></div>
<div class="bx" style="top:274px;background:#00ff00;"><span>0.91800</span></div>
<div class="bx" style="top:287px;background:#000;"><span>0.91699</span></div>
<div class="bx" style="top:347px;background:#0000ff;"><span>0.91206</span></div>
<div class="a" style="left:6.7px;top:32px;width:0;height:0;border-left:4px solid transparent;border-right:4px solid transparent;border-bottom:4.5px solid #000;"></div>
<div class="t" style="left:19.5px;top:28.4px;">USDCHF-,H4&nbsp; 0.91703 0.91703 0.91696 0.91699</div>
<div class="t" style="left:8px;top:410.9px;">MACD(12,26,9) 0.000194 -0.000462</div>
<div class="t" style="left:8px;top:481.6px;">RSI(14) 56.8702</div>
<div class="a" style="left:7px;top:45px;width:52px;height:25px;background:linear-gradient(#5858f8,#3030dc);"></div>
<div class="a" style="left:175px;top:45px;width:51px;height:25px;background:linear-gradient(#5858f8,#3030dc);"></div>
<div class="a" style="left:7px;top:69px;width:109px;height:33px;background:linear-gradient(#3434dc,#0000a0);"></div>
<div class="a" style="left:118px;top:69px;width:108px;height:33px;background:linear-gradient(#3434dc,#0000a0);"></div>
<div class="a" style="left:11px;top:68px;width:44px;height:1px;background:#2020b0;"></div>
<div class="a" style="left:11px;top:69px;width:44px;height:1px;background:#7878ff;"></div>
<div class="a" style="left:178px;top:68px;width:44px;height:1px;background:#2020b0;"></div>
<div class="a" style="left:178px;top:69px;width:44px;height:1px;background:#7878ff;"></div>
<div class="t" style="left:19.3px;top:50.5px;color:#fff;font-size:11.6px;transform:scaleX(0.89);transform-origin:0 0;">SELL</div>
<div class="t" style="left:186.8px;top:50.5px;color:#fff;font-size:11.6px;transform:scaleX(1.0);transform-origin:0 0;">BUY</div>
<div class="a" style="left:60px;top:45px;width:113px;height:22px;background:#fff;border:1px solid #b0b0b0;box-sizing:border-box;"></div>
<div class="a" style="left:62px;top:46px;width:20px;height:20px;background:linear-gradient(#ececec,#cfcfcf);border:1px solid #b8b8b8;box-sizing:border-box;"></div>
<div class="a" style="left:151px;top:46px;width:21px;height:20px;background:linear-gradient(#ececec,#cfcfcf);border:1px solid #b8b8b8;box-sizing:border-box;"></div>
<div class="a" style="left:69px;top:54px;width:0;height:0;border-left:3px solid transparent;border-right:3px solid transparent;border-top:3px solid #4a5aa8;"></div>
<div class="a" style="left:158px;top:54px;width:0;height:0;border-left:3px solid transparent;border-right:3px solid transparent;border-bottom:3px solid #4a5aa8;"></div>
<div class="t" style="left:100px;width:47px;text-align:right;top:49.8px;font-size:12.2px;">3.00</div>
<div class="t" style="left:27px;top:88.7px;color:#fff;font-weight:bold;font-size:10.4px;transform:scaleX(1.14);transform-origin:0 0;">0.91</div>
<div class="t" style="left:54px;top:68.5px;color:#fff;font-size:33px;transform:scaleX(0.95);transform-origin:0 0;">69</div>
<div class="t" style="left:94.3px;top:71.5px;color:#fff;font-weight:bold;font-size:11px;transform:scaleX(1.1);transform-origin:0 0;">9</div>
<div class="t" style="left:137px;top:88.7px;color:#fff;font-weight:bold;font-size:10.4px;transform:scaleX(1.14);transform-origin:0 0;">0.91</div>
<div class="t" style="left:164px;top:68.5px;color:#fff;font-size:33px;transform:scaleX(0.95);transform-origin:0 0;">72</div>
<div class="t" style="left:204.3px;top:71.5px;color:#fff;font-weight:bold;font-size:11px;transform:scaleX(1.1);transform-origin:0 0;">4</div>
<div class="a" style="left:4px;top:550px;width:1px;height:2px;background:#000;"></div>
<div class="dt" style="left:3px;">4 Oct 2021</div>
<div class="a" style="left:68px;top:550px;width:1px;height:2px;background:#000;"></div>
<div class="dt" style="left:67px;">11 Oct 12:00</div>
<div class="a" style="left:132px;top:550px;width:1px;height:2px;background:#000;"></div>
<div class="dt" style="left:131px;">18 Oct 20:00</div>
<div class="a" style="left:196px;top:550px;width:1px;height:2px;background:#000;"></div>
<div class="dt" style="left:195px;">26 Oct 04:00</div>
<div class="a" style="left:260px;top:550px;width:1px;height:2px;background:#000;"></div>
<div class="dt" style="left:259px;">2 Nov 12:00</div>
<div class="a" style="left:324px;top:550px;width:1px;height:2px;background:#000;"></div>
<div class="dt" style="left:323px;">9 Nov 20:00</div>
<div class="a" style="left:388px;top:550px;width:1px;height:2px;background:#000;"></div>
<div class="dt" style="left:387px;">17 Nov 04:00</div>
<div class="a" style="left:452px;top:550px;width:1px;height:2px;background:#000;"></div>
<div class="dt" style="left:451px;">24 Nov 12:00</div>
<div class="a" style="left:516px;top:550px;width:1px;height:2px;background:#000;"></div>
<div class="dt" style="left:515px;">1 Dec 20:00</div>
<div class="a" style="left:580px;top:550px;width:1px;height:2px;background:#000;"></div>
<div class="dt" style="left:579px;">9 Dec 04:00</div>
<div class="a" style="left:644px;top:550px;width:1px;height:2px;background:#000;"></div>
<div class="dt" style="left:643px;">16 Dec 12:00</div>
<div class="a" style="left:708px;top:550px;width:1px;height:2px;background:#000;"></div>
<div class="dt" style="left:707px;">23 Dec 20:00</div>
<div class="a" style="left:772px;top:550px;width:1px;height:2px;background:#000;"></div>
<div class="dt" style="left:771px;">31 Dec 04:00</div>
<div class="a" style="left:836px;top:550px;width:1px;height:2px;background:#000;"></div>
<div class="dt" style="left:835px;">7 Jan 12:00</div>
<div class="a" style="left:900px;top:550px;width:1px;height:2px;background:#000;"></div>
<div class="dt" style="left:899px;">16 Jan 23:00</div>
<div class="a" style="left:0;top:570px;width:1206px;height:2px;background:#e8e8e8;"></div>
<div class="a" style="left:0;top:572px;width:1206px;height:1px;background:#000;"></div>
<div class="a" style="left:0;top:573px;width:1206px;height:21px;background:#f0f0f0;"></div>
<div class="a" style="left:0;top:573px;width:1px;height:18px;background:#555;"></div>
<div class="a" style="left:0;top:594px;width:1206px;height:1px;background:#fcfcfc;"></div>
<div class="a" style="left:0;top:595px;width:1206px;height:2px;background:#a4a4a4;"></div>
<div class="a" style="left:321px;top:572px;width:94px;height:18px;background:#fff;border:1px solid #000;border-top:none;"></div>
<div class="tab" style="left:16px;transform:scaleX(0.975);">USDX,Weekly</div>
<div class="tab" style="left:115.3px;transform:scaleX(0.953);">EURUSD-,Daily</div>
<div class="tab" style="left:222.2px;transform:scaleX(0.982);">AUDUSD-,Daily</div>
<div class="tab" style="left:427.5px;transform:scaleX(0.965);">USDCAD-,Daily</div>
<div class="tab" style="left:536.8px;transform:scaleX(0.976);">USDCNH-,Daily</div>
<div class="tab" style="left:647.3px;transform:scaleX(0.961);">XAUUSD-,H1</div>
<div class="tab" style="left:744.2px;transform:scaleX(0.99);">UKOil-,Daily</div>
<div class="tab" style="left:836.2px;transform:scaleX(0.98);">DJ30-,Daily</div>
<div class="tab" style="left:923.8px;transform:scaleX(0.981);">UK100-,H1</div>
<div class="tab" style="left:333px;color:#000;transform:scaleX(0.939);">USDCHF-,H4</div>
<div class="sep" style="left:105px;"></div>
<div class="sep" style="left:213px;"></div>
<div class="sep" style="left:525px;"></div>
<div class="sep" style="left:637px;"></div>
<div class="sep" style="left:732px;"></div>
<div class="sep" style="left:825px;"></div>
<div class="sep" style="left:913px;"></div>
<div class="sep" style="left:997px;"></div>
<div class="a" style="left:1182px;top:578px;width:0;height:0;border-top:3px solid transparent;border-bottom:3px solid transparent;border-right:4px solid #a0a0a0;"></div>
<div class="a" style="left:1200px;top:578px;width:0;height:0;border-top:3px solid transparent;border-bottom:3px solid transparent;border-left:4px solid #a0a0a0;"></div>
</body></html>
